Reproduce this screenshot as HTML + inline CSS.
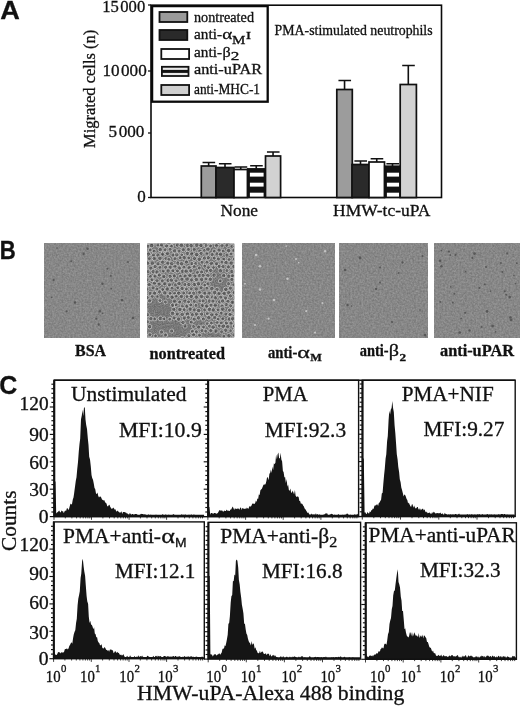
<!DOCTYPE html>
<html><head><meta charset="utf-8"><title>Figure</title>
<style>
html,body{margin:0;padding:0;background:#fff}
svg{display:block}
text{font-family:"Liberation Serif", serif;fill:#111;stroke:#111;stroke-width:0.3px}
.sans{font-family:"Liberation Sans", sans-serif}
</style></head><body>
<svg width="520" height="706" viewBox="0 0 520 706">
<defs>
<filter id="grain" x="0" y="0" width="100%" height="100%" color-interpolation-filters="sRGB">
<feTurbulence type="fractalNoise" baseFrequency="0.55" numOctaves="2" seed="3" result="n"/>
<feColorMatrix in="n" type="matrix" values="0.2 0 0 0 0.43  0.2 0 0 0 0.43  0.2 0 0 0 0.43  0 0 0 0 1"/>
</filter>
<filter id="grain2" x="0" y="0" width="100%" height="100%" color-interpolation-filters="sRGB">
<feTurbulence type="fractalNoise" baseFrequency="0.9" numOctaves="2" seed="8" result="n"/>
<feColorMatrix in="n" type="matrix" values="1.2 0 0 0 -0.1  1.2 0 0 0 -0.1  1.2 0 0 0 -0.1  0 0 0 0 0.22"/>
</filter>
<filter id="soft" x="-20%" y="-20%" width="140%" height="140%"><feGaussianBlur stdDeviation="1.6"/></filter>
<filter id="soft2" x="-5%" y="-5%" width="110%" height="110%"><feGaussianBlur stdDeviation="0.5"/></filter>
<filter id="cells" x="0" y="0" width="100%" height="100%"><feFlood flood-opacity="0"/></filter>
<clipPath id="clipcells"><rect x="147.2" y="243.6" width="87" height="93.9"/></clipPath>
</defs>
<rect width="520" height="706" fill="#fff"/>
<g id="panelA">
<text x="0.3" y="19" font-size="25" textLength="19.6" lengthAdjust="spacingAndGlyphs" font-weight="bold" class="sans" >A</text>
<rect x="151" y="5.2" width="290.5" height="192.3" fill="none" stroke="#0a0a0a" stroke-width="1.6"/>
<line x1="148" y1="5" x2="151" y2="5" stroke="#111" stroke-width="1.3"/>
<line x1="148" y1="71" x2="151" y2="71" stroke="#111" stroke-width="1.3"/>
<line x1="148" y1="133" x2="151" y2="133" stroke="#111" stroke-width="1.3"/>
<line x1="148" y1="197.5" x2="151" y2="197.5" stroke="#111" stroke-width="1.3"/>
<text x="102.2" y="12.4" font-size="17" textLength="43" lengthAdjust="spacingAndGlyphs" >15<tspan dx="1.5">000</tspan></text>
<text x="102.4" y="76.4" font-size="17" textLength="44.3" lengthAdjust="spacingAndGlyphs" >10<tspan dx="1.5">000</tspan></text>
<text x="108.6" y="137.2" font-size="17" textLength="35.8" lengthAdjust="spacingAndGlyphs" >5<tspan dx="1.5">000</tspan></text>
<text x="137.2" y="202.1" font-size="17" >0</text>
<text transform="translate(95.4,148) rotate(-90)" font-size="17" textLength="118.3" lengthAdjust="spacingAndGlyphs">Migrated cells (n)</text>
<rect x="152.1" y="6.1" width="115.6" height="95.6" fill="#fff" stroke="#0a0a0a" stroke-width="2.3"/>
<rect x="159.5" y="12" width="27.8" height="10" fill="#9a9a9a" stroke="#111" stroke-width="1.8"/>
<rect x="159.5" y="30" width="27.8" height="10" fill="#2a2a2a" stroke="#111" stroke-width="1.8"/>
<rect x="161.3" y="49" width="27.8" height="10" fill="#fff" stroke="#111" stroke-width="1.8"/>
<rect x="161.9" y="66.8" width="26.6" height="9.2" fill="#e8e8e8" stroke="#111" stroke-width="1.8"/>
<rect x="161.9" y="69.9" width="26.6" height="3" fill="#111"/>
<rect x="161.3" y="85" width="27.8" height="10" fill="#d0d0d0" stroke="#111" stroke-width="1.8"/>
<text x="194" y="22" font-size="14.5" textLength="60" lengthAdjust="spacingAndGlyphs" >nontreated</text>
<text x="194" y="39.4" font-size="14.5" textLength="28" lengthAdjust="spacingAndGlyphs" >anti-</text>
<text x="222.2" y="39.4" font-size="14.5" textLength="10" lengthAdjust="spacingAndGlyphs" >α</text>
<text x="232" y="44" font-size="12.5" textLength="13.4" lengthAdjust="spacingAndGlyphs" >M</text>
<text x="246" y="39.4" font-size="9.5" textLength="5" lengthAdjust="spacingAndGlyphs" >I</text>
<text x="194" y="56.5" font-size="14.5" textLength="28" lengthAdjust="spacingAndGlyphs" >anti-</text>
<text x="222.4" y="56.5" font-size="14.5" textLength="8.2" lengthAdjust="spacingAndGlyphs" >β</text>
<text x="230.7" y="60.2" font-size="12" textLength="8.6" lengthAdjust="spacingAndGlyphs" >2</text>
<text x="194" y="74" font-size="14.5" textLength="68" lengthAdjust="spacingAndGlyphs" >anti-uPAR</text>
<text x="194" y="94" font-size="14.5" textLength="66" lengthAdjust="spacingAndGlyphs" >anti-MHC-1</text>
<text x="274.6" y="35.1" font-size="14" textLength="158" lengthAdjust="spacingAndGlyphs" >PMA-stimulated neutrophils</text>
<rect x="201.3" y="166" width="14.699999999999989" height="31.5" fill="#9c9c9c" stroke="#111" stroke-width="1.7"/>
<path d="M208.65 166V162.5M202.55 162.5H215.15" stroke="#111" stroke-width="1.6" fill="none"/>
<rect x="216" y="167.5" width="18" height="30.0" fill="#2a2a2a" stroke="#111" stroke-width="1.7"/>
<path d="M225.0 167.5V163.7M218.9 163.7H231.5" stroke="#111" stroke-width="1.6" fill="none"/>
<rect x="234" y="169.5" width="13.5" height="28.0" fill="#fff" stroke="#111" stroke-width="1.7"/>
<path d="M240.75 169.5V167M234.65 167H247.25" stroke="#111" stroke-width="1.6" fill="none"/>
<rect x="247.5" y="168.7" width="17.5" height="28.80000000000001" fill="#111" stroke="#111" stroke-width="1.2"/>
<rect x="249.9" y="172.7" width="13.7" height="3.9" fill="#fff"/>
<rect x="249.9" y="182.7" width="13.7" height="3.9" fill="#fff"/>
<rect x="249.9" y="192.7" width="13.7" height="3.9" fill="#fff"/>
<path d="M256.25 168.7V165.7M250.15 165.7H262.75" stroke="#111" stroke-width="1.6" fill="none"/>
<rect x="265.5" y="156" width="15.100000000000023" height="41.5" fill="#d2d2d2" stroke="#111" stroke-width="1.7"/>
<path d="M273.05 156V152M266.95 152H279.55" stroke="#111" stroke-width="1.6" fill="none"/>
<rect x="336.8" y="89.5" width="15.5" height="108.0" fill="#9c9c9c" stroke="#111" stroke-width="1.7"/>
<path d="M344.55 89.5V80.5M338.45 80.5H351.05" stroke="#111" stroke-width="1.6" fill="none"/>
<rect x="352" y="164.5" width="17" height="33.0" fill="#2a2a2a" stroke="#111" stroke-width="1.7"/>
<path d="M360.5 164.5V161M354.4 161H367.0" stroke="#111" stroke-width="1.6" fill="none"/>
<rect x="369" y="162" width="15.5" height="35.5" fill="#fff" stroke="#111" stroke-width="1.7"/>
<path d="M376.75 162V158.7M370.65 158.7H383.25" stroke="#111" stroke-width="1.6" fill="none"/>
<rect x="384.5" y="166" width="16.0" height="31.5" fill="#111" stroke="#111" stroke-width="1.2"/>
<rect x="386.9" y="172.7" width="12.2" height="3.9" fill="#fff"/>
<rect x="386.9" y="182.7" width="12.2" height="3.9" fill="#fff"/>
<rect x="386.9" y="192.7" width="12.2" height="3.9" fill="#fff"/>
<path d="M392.5 166V163.7M386.4 163.7H399.0" stroke="#111" stroke-width="1.6" fill="none"/>
<rect x="400.2" y="84.5" width="16.19999999999999" height="113.0" fill="#d2d2d2" stroke="#111" stroke-width="1.7"/>
<path d="M408.29999999999995 84.5V65.5M402.19999999999993 65.5H414.79999999999995" stroke="#111" stroke-width="1.6" fill="none"/>
<text x="220.5" y="216" font-size="16.5" textLength="37.5" lengthAdjust="spacingAndGlyphs" >None</text>
<text x="333" y="216" font-size="16.5" textLength="97.5" lengthAdjust="spacingAndGlyphs" >HMW-tc-uPA</text>
</g>
<g id="panelB">
<text x="-0.2" y="258.8" font-size="25" textLength="16" lengthAdjust="spacingAndGlyphs" font-weight="bold" class="sans" >B</text>
<rect x="44.5" y="243.6" width="95.30000000000001" height="93.9" fill="#8d8d8d"/>
<rect x="44.5" y="243.6" width="95.30000000000001" height="93.9" fill="#808080" filter="url(#grain)"/>
<rect x="147.2" y="243.6" width="87.0" height="93.9" fill="#8d8d8d"/>
<rect x="147.2" y="243.6" width="87.0" height="93.9" fill="#808080" filter="url(#cells)"/>
<rect x="242.3" y="243.6" width="92.19999999999999" height="93.9" fill="#8d8d8d"/>
<rect x="242.3" y="243.6" width="92.19999999999999" height="93.9" fill="#808080" filter="url(#grain)"/>
<rect x="339.5" y="243.6" width="88.5" height="93.9" fill="#8d8d8d"/>
<rect x="339.5" y="243.6" width="88.5" height="93.9" fill="#808080" filter="url(#grain)"/>
<rect x="434.3" y="243.6" width="85.30000000000001" height="93.9" fill="#8d8d8d"/>
<rect x="434.3" y="243.6" width="85.30000000000001" height="93.9" fill="#808080" filter="url(#grain)"/>
<circle cx="57.0" cy="248.0" r="0.87" fill="#484848" opacity="0.75"/>
<circle cx="87.5" cy="248.7" r="1.22" fill="#484848" opacity="0.75"/>
<circle cx="83.7" cy="253.7" r="1.18" fill="#484848" opacity="0.75"/>
<circle cx="71.2" cy="261.2" r="0.93" fill="#484848" opacity="0.75"/>
<circle cx="107.5" cy="268.7" r="1.05" fill="#484848" opacity="0.75"/>
<circle cx="110.7" cy="275.7" r="1.02" fill="#484848" opacity="0.75"/>
<circle cx="53.7" cy="280.0" r="1.13" fill="#484848" opacity="0.75"/>
<circle cx="102.5" cy="283.7" r="1.19" fill="#484848" opacity="0.75"/>
<circle cx="111.2" cy="288.7" r="0.85" fill="#484848" opacity="0.75"/>
<circle cx="51.7" cy="297.5" r="0.81" fill="#484848" opacity="0.75"/>
<circle cx="75.0" cy="302.5" r="1.22" fill="#484848" opacity="0.75"/>
<circle cx="66.7" cy="311.2" r="1.02" fill="#484848" opacity="0.75"/>
<circle cx="100.0" cy="311.2" r="1.18" fill="#484848" opacity="0.75"/>
<circle cx="102.5" cy="313.2" r="0.80" fill="#484848" opacity="0.75"/>
<circle cx="96.2" cy="318.7" r="1.02" fill="#484848" opacity="0.75"/>
<circle cx="98.7" cy="324.5" r="1.16" fill="#484848" opacity="0.75"/>
<circle cx="128.0" cy="262.0" r="0.91" fill="#484848" opacity="0.75"/>
<circle cx="122.0" cy="300.0" r="1.27" fill="#484848" opacity="0.75"/>
<circle cx="133.0" cy="318.0" r="1.25" fill="#484848" opacity="0.75"/>
<g filter="url(#soft2)">
<circle cx="256.2" cy="255.0" r="1.33" fill="#d8d8d8" opacity="0.75"/>
<circle cx="260.0" cy="266.2" r="1.32" fill="#d8d8d8" opacity="0.75"/>
<circle cx="286.2" cy="246.2" r="0.83" fill="#d8d8d8" opacity="0.75"/>
<circle cx="298.7" cy="262.5" r="0.85" fill="#d8d8d8" opacity="0.75"/>
<circle cx="287.5" cy="278.7" r="1.26" fill="#d8d8d8" opacity="0.75"/>
<circle cx="260.0" cy="289.5" r="1.20" fill="#d8d8d8" opacity="0.75"/>
<circle cx="325.0" cy="251.2" r="1.17" fill="#d8d8d8" opacity="0.75"/>
<circle cx="322.5" cy="303.0" r="0.97" fill="#d8d8d8" opacity="0.75"/>
<circle cx="306.2" cy="311.2" r="1.13" fill="#d8d8d8" opacity="0.75"/>
<circle cx="268.7" cy="318.7" r="1.13" fill="#d8d8d8" opacity="0.75"/>
<circle cx="315.0" cy="332.5" r="1.12" fill="#d8d8d8" opacity="0.75"/>
<circle cx="245.0" cy="283.7" r="0.89" fill="#d8d8d8" opacity="0.75"/>
<circle cx="255.0" cy="325.0" r="1.04" fill="#d8d8d8" opacity="0.75"/>
<circle cx="296.0" cy="259.0" r="1.02" fill="#d8d8d8" opacity="0.75"/>
<circle cx="274.0" cy="300.0" r="1.20" fill="#d8d8d8" opacity="0.75"/>
</g>
<circle cx="380.0" cy="267.5" r="0.94" fill="#484848" opacity="0.75"/>
<circle cx="402.5" cy="262.5" r="1.13" fill="#484848" opacity="0.75"/>
<circle cx="380.0" cy="282.5" r="1.02" fill="#484848" opacity="0.75"/>
<circle cx="376.0" cy="289.0" r="1.16" fill="#484848" opacity="0.75"/>
<circle cx="347.5" cy="305.0" r="1.18" fill="#484848" opacity="0.75"/>
<circle cx="351.5" cy="306.0" r="0.84" fill="#484848" opacity="0.75"/>
<circle cx="420.0" cy="310.0" r="0.81" fill="#484848" opacity="0.75"/>
<circle cx="425.0" cy="335.0" r="1.30" fill="#484848" opacity="0.75"/>
<circle cx="422.5" cy="256.0" r="0.96" fill="#484848" opacity="0.75"/>
<circle cx="398.7" cy="273.0" r="0.94" fill="#484848" opacity="0.75"/>
<circle cx="360.0" cy="258.0" r="1.40" fill="#484848" opacity="0.75"/>
<circle cx="392.0" cy="322.0" r="1.08" fill="#484848" opacity="0.75"/>
<circle cx="345.0" cy="270.0" r="1.30" fill="#484848" opacity="0.75"/>
<circle cx="455.5" cy="254.9" r="1.04" fill="#484848" opacity="0.75"/>
<circle cx="449.0" cy="251.6" r="1.04" fill="#484848" opacity="0.75"/>
<circle cx="510.4" cy="317.6" r="1.26" fill="#484848" opacity="0.75"/>
<circle cx="454.4" cy="293.8" r="0.97" fill="#484848" opacity="0.75"/>
<circle cx="450.4" cy="255.1" r="0.93" fill="#484848" opacity="0.75"/>
<circle cx="511.2" cy="320.1" r="1.28" fill="#484848" opacity="0.75"/>
<circle cx="500.9" cy="263.0" r="0.99" fill="#484848" opacity="0.75"/>
<circle cx="487.0" cy="311.4" r="1.31" fill="#484848" opacity="0.75"/>
<circle cx="507.3" cy="253.4" r="1.16" fill="#484848" opacity="0.75"/>
<circle cx="490.6" cy="291.1" r="0.91" fill="#484848" opacity="0.75"/>
<circle cx="474.6" cy="253.6" r="1.36" fill="#484848" opacity="0.75"/>
<circle cx="506.2" cy="294.8" r="0.98" fill="#484848" opacity="0.75"/>
<circle cx="509.7" cy="297.1" r="1.33" fill="#484848" opacity="0.75"/>
<circle cx="504.8" cy="291.3" r="1.05" fill="#484848" opacity="0.75"/>
<circle cx="484.7" cy="284.4" r="0.90" fill="#484848" opacity="0.75"/>
<circle cx="461.1" cy="318.7" r="0.83" fill="#484848" opacity="0.75"/>
<circle cx="440.2" cy="301.9" r="0.97" fill="#484848" opacity="0.75"/>
<circle cx="479.5" cy="288.0" r="1.01" fill="#484848" opacity="0.75"/>
<circle cx="516.8" cy="263.2" r="1.05" fill="#484848" opacity="0.75"/>
<circle cx="452.8" cy="302.5" r="0.97" fill="#484848" opacity="0.75"/>
<circle cx="465.1" cy="312.8" r="0.99" fill="#484848" opacity="0.75"/>
<circle cx="481.5" cy="326.9" r="0.86" fill="#484848" opacity="0.75"/>
<circle cx="441.5" cy="266.2" r="1.26" fill="#484848" opacity="0.75"/>
<circle cx="486.0" cy="266.9" r="1.00" fill="#484848" opacity="0.75"/>
<circle cx="450.8" cy="286.9" r="0.83" fill="#484848" opacity="0.75"/>
<circle cx="492.6" cy="326.1" r="1.37" fill="#484848" opacity="0.75"/>
<circle cx="495.7" cy="331.9" r="0.81" fill="#484848" opacity="0.75"/>
<circle cx="459.8" cy="332.4" r="1.27" fill="#484848" opacity="0.75"/>
<circle cx="469.5" cy="330.4" r="1.17" fill="#484848" opacity="0.75"/>
<circle cx="502.3" cy="272.0" r="0.91" fill="#484848" opacity="0.75"/>
<circle cx="472.3" cy="257.9" r="1.03" fill="#484848" opacity="0.75"/>
<circle cx="513.9" cy="275.4" r="0.81" fill="#484848" opacity="0.75"/>
<circle cx="440.1" cy="260.8" r="1.27" fill="#484848" opacity="0.75"/>
<circle cx="465.7" cy="271.7" r="0.86" fill="#484848" opacity="0.75"/>
<circle cx="515.5" cy="283.7" r="0.92" fill="#484848" opacity="0.75"/>
<circle cx="441.3" cy="250.6" r="0.90" fill="#484848" opacity="0.75"/>
<g clip-path="url(#clipcells)">
<rect x="147.2" y="243.6" width="87.0" height="93.9" fill="#767676"/>
<circle cx="145.1" cy="241.7" r="2.27" fill="#585858" stroke="#dadada" stroke-width="0.75"/>
<circle cx="150.0" cy="241.6" r="2.13" fill="#585858" stroke="#dadada" stroke-width="0.75"/>
<circle cx="154.4" cy="241.6" r="2.15" fill="#585858" stroke="#dadada" stroke-width="0.75"/>
<circle cx="160.5" cy="240.8" r="2.02" fill="#585858" stroke="#dadada" stroke-width="0.75"/>
<circle cx="164.0" cy="242.2" r="2.18" fill="#585858" stroke="#dadada" stroke-width="0.75"/>
<circle cx="168.8" cy="242.6" r="2.29" fill="#585858" stroke="#dadada" stroke-width="0.75"/>
<circle cx="174.9" cy="241.8" r="1.96" fill="#585858" stroke="#dadada" stroke-width="0.75"/>
<circle cx="178.5" cy="241.7" r="1.92" fill="#585858" stroke="#dadada" stroke-width="0.75"/>
<circle cx="183.8" cy="241.1" r="1.91" fill="#585858" stroke="#dadada" stroke-width="0.75"/>
<circle cx="189.2" cy="241.5" r="2.24" fill="#585858" stroke="#dadada" stroke-width="0.75"/>
<circle cx="194.2" cy="241.9" r="2.10" fill="#585858" stroke="#dadada" stroke-width="0.75"/>
<circle cx="199.4" cy="241.5" r="2.01" fill="#585858" stroke="#dadada" stroke-width="0.75"/>
<circle cx="205.0" cy="242.6" r="2.24" fill="#585858" stroke="#dadada" stroke-width="0.75"/>
<circle cx="209.3" cy="241.2" r="1.99" fill="#585858" stroke="#dadada" stroke-width="0.75"/>
<circle cx="213.4" cy="240.7" r="2.21" fill="#585858" stroke="#dadada" stroke-width="0.75"/>
<circle cx="218.5" cy="242.3" r="2.05" fill="#585858" stroke="#dadada" stroke-width="0.75"/>
<circle cx="224.5" cy="242.3" r="1.90" fill="#585858" stroke="#dadada" stroke-width="0.75"/>
<circle cx="227.9" cy="242.4" r="2.09" fill="#585858" stroke="#dadada" stroke-width="0.75"/>
<circle cx="234.4" cy="241.4" r="1.93" fill="#585858" stroke="#dadada" stroke-width="0.75"/>
<circle cx="147.9" cy="246.4" r="2.01" fill="#585858" stroke="#dadada" stroke-width="0.75"/>
<circle cx="151.7" cy="245.5" r="2.29" fill="#585858" stroke="#dadada" stroke-width="0.75"/>
<circle cx="158.0" cy="245.1" r="2.00" fill="#585858" stroke="#dadada" stroke-width="0.75"/>
<circle cx="161.6" cy="245.0" r="2.22" fill="#585858" stroke="#dadada" stroke-width="0.75"/>
<circle cx="166.6" cy="246.0" r="2.08" fill="#585858" stroke="#dadada" stroke-width="0.75"/>
<circle cx="171.5" cy="246.3" r="1.95" fill="#585858" stroke="#dadada" stroke-width="0.75"/>
<circle cx="177.3" cy="245.1" r="2.07" fill="#585858" stroke="#dadada" stroke-width="0.75"/>
<circle cx="181.4" cy="245.4" r="2.29" fill="#585858" stroke="#dadada" stroke-width="0.75"/>
<circle cx="187.5" cy="245.5" r="2.25" fill="#585858" stroke="#dadada" stroke-width="0.75"/>
<circle cx="191.2" cy="245.7" r="2.24" fill="#585858" stroke="#dadada" stroke-width="0.75"/>
<circle cx="196.9" cy="245.1" r="2.30" fill="#585858" stroke="#dadada" stroke-width="0.75"/>
<circle cx="201.0" cy="245.4" r="2.21" fill="#585858" stroke="#dadada" stroke-width="0.75"/>
<circle cx="206.1" cy="245.5" r="1.93" fill="#585858" stroke="#dadada" stroke-width="0.75"/>
<circle cx="210.5" cy="246.0" r="2.00" fill="#585858" stroke="#dadada" stroke-width="0.75"/>
<circle cx="216.5" cy="245.6" r="2.08" fill="#585858" stroke="#dadada" stroke-width="0.75"/>
<circle cx="222.1" cy="245.8" r="2.13" fill="#585858" stroke="#dadada" stroke-width="0.75"/>
<circle cx="226.8" cy="245.2" r="1.96" fill="#585858" stroke="#dadada" stroke-width="0.75"/>
<circle cx="231.8" cy="246.5" r="2.00" fill="#585858" stroke="#dadada" stroke-width="0.75"/>
<circle cx="235.2" cy="246.3" r="2.28" fill="#585858" stroke="#dadada" stroke-width="0.75"/>
<circle cx="144.6" cy="251.0" r="2.25" fill="#585858" stroke="#dadada" stroke-width="0.75"/>
<circle cx="150.3" cy="250.0" r="1.94" fill="#585858" stroke="#dadada" stroke-width="0.75"/>
<circle cx="154.1" cy="251.1" r="2.00" fill="#585858" stroke="#dadada" stroke-width="0.75"/>
<circle cx="160.3" cy="249.6" r="2.23" fill="#585858" stroke="#dadada" stroke-width="0.75"/>
<circle cx="165.0" cy="249.7" r="1.97" fill="#585858" stroke="#dadada" stroke-width="0.75"/>
<circle cx="170.1" cy="249.3" r="1.99" fill="#585858" stroke="#dadada" stroke-width="0.75"/>
<circle cx="174.7" cy="250.8" r="2.15" fill="#585858" stroke="#dadada" stroke-width="0.75"/>
<circle cx="179.1" cy="251.0" r="1.98" fill="#585858" stroke="#dadada" stroke-width="0.75"/>
<circle cx="183.4" cy="249.7" r="2.08" fill="#585858" stroke="#dadada" stroke-width="0.75"/>
<circle cx="188.4" cy="249.5" r="2.05" fill="#585858" stroke="#dadada" stroke-width="0.75"/>
<circle cx="194.3" cy="249.4" r="2.04" fill="#585858" stroke="#dadada" stroke-width="0.75"/>
<circle cx="199.9" cy="251.1" r="2.16" fill="#585858" stroke="#dadada" stroke-width="0.75"/>
<circle cx="204.4" cy="250.3" r="1.96" fill="#585858" stroke="#dadada" stroke-width="0.75"/>
<circle cx="208.0" cy="249.2" r="2.26" fill="#585858" stroke="#dadada" stroke-width="0.75"/>
<circle cx="214.2" cy="251.1" r="1.91" fill="#585858" stroke="#dadada" stroke-width="0.75"/>
<circle cx="219.0" cy="250.1" r="2.19" fill="#585858" stroke="#dadada" stroke-width="0.75"/>
<circle cx="223.2" cy="251.1" r="1.93" fill="#585858" stroke="#dadada" stroke-width="0.75"/>
<circle cx="228.6" cy="250.6" r="2.26" fill="#585858" stroke="#dadada" stroke-width="0.75"/>
<circle cx="233.9" cy="250.5" r="2.22" fill="#585858" stroke="#dadada" stroke-width="0.75"/>
<circle cx="148.5" cy="254.1" r="2.17" fill="#585858" stroke="#dadada" stroke-width="0.75"/>
<circle cx="153.4" cy="255.1" r="2.07" fill="#585858" stroke="#dadada" stroke-width="0.75"/>
<circle cx="158.0" cy="255.1" r="2.13" fill="#585858" stroke="#dadada" stroke-width="0.75"/>
<circle cx="162.6" cy="254.2" r="2.13" fill="#585858" stroke="#dadada" stroke-width="0.75"/>
<circle cx="167.5" cy="253.5" r="2.16" fill="#585858" stroke="#dadada" stroke-width="0.75"/>
<circle cx="173.1" cy="255.1" r="2.19" fill="#585858" stroke="#dadada" stroke-width="0.75"/>
<circle cx="176.8" cy="254.9" r="2.13" fill="#585858" stroke="#dadada" stroke-width="0.75"/>
<circle cx="181.8" cy="255.1" r="1.93" fill="#585858" stroke="#dadada" stroke-width="0.75"/>
<circle cx="187.4" cy="253.4" r="2.14" fill="#585858" stroke="#dadada" stroke-width="0.75"/>
<circle cx="191.7" cy="253.8" r="2.18" fill="#585858" stroke="#dadada" stroke-width="0.75"/>
<circle cx="196.6" cy="254.6" r="2.27" fill="#585858" stroke="#dadada" stroke-width="0.75"/>
<circle cx="201.1" cy="253.4" r="2.02" fill="#585858" stroke="#dadada" stroke-width="0.75"/>
<circle cx="206.8" cy="253.8" r="1.97" fill="#585858" stroke="#dadada" stroke-width="0.75"/>
<circle cx="212.2" cy="254.7" r="2.08" fill="#585858" stroke="#dadada" stroke-width="0.75"/>
<circle cx="217.0" cy="254.0" r="2.17" fill="#585858" stroke="#dadada" stroke-width="0.75"/>
<circle cx="220.5" cy="254.3" r="2.22" fill="#585858" stroke="#dadada" stroke-width="0.75"/>
<circle cx="226.9" cy="255.1" r="2.05" fill="#585858" stroke="#dadada" stroke-width="0.75"/>
<circle cx="231.1" cy="254.0" r="1.95" fill="#585858" stroke="#dadada" stroke-width="0.75"/>
<circle cx="235.8" cy="255.1" r="2.24" fill="#585858" stroke="#dadada" stroke-width="0.75"/>
<circle cx="145.6" cy="259.6" r="2.01" fill="#585858" stroke="#dadada" stroke-width="0.75"/>
<circle cx="149.4" cy="258.6" r="2.01" fill="#585858" stroke="#dadada" stroke-width="0.75"/>
<circle cx="154.4" cy="258.5" r="2.15" fill="#585858" stroke="#dadada" stroke-width="0.75"/>
<circle cx="159.9" cy="258.3" r="2.24" fill="#585858" stroke="#dadada" stroke-width="0.75"/>
<circle cx="165.8" cy="258.6" r="1.93" fill="#585858" stroke="#dadada" stroke-width="0.75"/>
<circle cx="168.8" cy="259.4" r="1.92" fill="#585858" stroke="#dadada" stroke-width="0.75"/>
<circle cx="175.0" cy="258.8" r="2.02" fill="#585858" stroke="#dadada" stroke-width="0.75"/>
<circle cx="180.1" cy="257.7" r="1.95" fill="#585858" stroke="#dadada" stroke-width="0.75"/>
<circle cx="184.3" cy="257.7" r="2.23" fill="#585858" stroke="#dadada" stroke-width="0.75"/>
<circle cx="188.8" cy="257.9" r="1.92" fill="#585858" stroke="#dadada" stroke-width="0.75"/>
<circle cx="194.5" cy="258.5" r="2.15" fill="#585858" stroke="#dadada" stroke-width="0.75"/>
<circle cx="199.4" cy="259.3" r="2.28" fill="#585858" stroke="#dadada" stroke-width="0.75"/>
<circle cx="204.4" cy="258.1" r="2.09" fill="#585858" stroke="#dadada" stroke-width="0.75"/>
<circle cx="208.3" cy="257.7" r="2.09" fill="#585858" stroke="#dadada" stroke-width="0.75"/>
<circle cx="214.2" cy="258.0" r="2.01" fill="#585858" stroke="#dadada" stroke-width="0.75"/>
<circle cx="218.4" cy="259.0" r="2.11" fill="#585858" stroke="#dadada" stroke-width="0.75"/>
<circle cx="223.8" cy="259.2" r="2.06" fill="#585858" stroke="#dadada" stroke-width="0.75"/>
<circle cx="229.1" cy="259.5" r="1.93" fill="#585858" stroke="#dadada" stroke-width="0.75"/>
<circle cx="234.3" cy="259.1" r="1.95" fill="#585858" stroke="#dadada" stroke-width="0.75"/>
<circle cx="147.6" cy="263.2" r="2.26" fill="#585858" stroke="#dadada" stroke-width="0.75"/>
<circle cx="152.3" cy="263.1" r="2.25" fill="#585858" stroke="#dadada" stroke-width="0.75"/>
<circle cx="158.0" cy="263.8" r="2.09" fill="#585858" stroke="#dadada" stroke-width="0.75"/>
<circle cx="162.7" cy="262.3" r="2.19" fill="#585858" stroke="#dadada" stroke-width="0.75"/>
<circle cx="167.9" cy="263.2" r="2.19" fill="#585858" stroke="#dadada" stroke-width="0.75"/>
<circle cx="171.6" cy="263.7" r="2.29" fill="#585858" stroke="#dadada" stroke-width="0.75"/>
<circle cx="178.0" cy="263.0" r="2.22" fill="#585858" stroke="#dadada" stroke-width="0.75"/>
<circle cx="181.6" cy="263.7" r="2.24" fill="#585858" stroke="#dadada" stroke-width="0.75"/>
<circle cx="186.5" cy="262.1" r="2.08" fill="#585858" stroke="#dadada" stroke-width="0.75"/>
<circle cx="191.9" cy="263.5" r="2.09" fill="#585858" stroke="#dadada" stroke-width="0.75"/>
<circle cx="195.7" cy="263.5" r="1.93" fill="#585858" stroke="#dadada" stroke-width="0.75"/>
<circle cx="202.1" cy="262.3" r="2.03" fill="#585858" stroke="#dadada" stroke-width="0.75"/>
<circle cx="207.0" cy="262.2" r="1.96" fill="#585858" stroke="#dadada" stroke-width="0.75"/>
<circle cx="211.4" cy="263.4" r="2.24" fill="#585858" stroke="#dadada" stroke-width="0.75"/>
<circle cx="216.6" cy="263.8" r="2.10" fill="#585858" stroke="#dadada" stroke-width="0.75"/>
<circle cx="222.0" cy="262.1" r="1.99" fill="#585858" stroke="#dadada" stroke-width="0.75"/>
<circle cx="226.1" cy="262.5" r="2.19" fill="#585858" stroke="#dadada" stroke-width="0.75"/>
<circle cx="231.2" cy="263.0" r="2.24" fill="#585858" stroke="#dadada" stroke-width="0.75"/>
<circle cx="236.0" cy="262.5" r="2.05" fill="#585858" stroke="#dadada" stroke-width="0.75"/>
<circle cx="145.9" cy="268.0" r="1.98" fill="#585858" stroke="#dadada" stroke-width="0.75"/>
<circle cx="150.8" cy="268.1" r="2.11" fill="#585858" stroke="#dadada" stroke-width="0.75"/>
<circle cx="155.1" cy="266.6" r="2.11" fill="#585858" stroke="#dadada" stroke-width="0.75"/>
<circle cx="159.9" cy="267.4" r="1.91" fill="#585858" stroke="#dadada" stroke-width="0.75"/>
<circle cx="165.7" cy="267.2" r="2.06" fill="#585858" stroke="#dadada" stroke-width="0.75"/>
<circle cx="170.3" cy="267.3" r="2.10" fill="#585858" stroke="#dadada" stroke-width="0.75"/>
<circle cx="175.0" cy="266.3" r="2.12" fill="#585858" stroke="#dadada" stroke-width="0.75"/>
<circle cx="179.3" cy="268.1" r="2.27" fill="#585858" stroke="#dadada" stroke-width="0.75"/>
<circle cx="183.9" cy="267.1" r="1.95" fill="#585858" stroke="#dadada" stroke-width="0.75"/>
<circle cx="189.2" cy="267.8" r="2.26" fill="#585858" stroke="#dadada" stroke-width="0.75"/>
<circle cx="194.2" cy="266.8" r="1.98" fill="#585858" stroke="#dadada" stroke-width="0.75"/>
<circle cx="199.3" cy="268.0" r="1.95" fill="#585858" stroke="#dadada" stroke-width="0.75"/>
<circle cx="204.6" cy="266.2" r="1.98" fill="#585858" stroke="#dadada" stroke-width="0.75"/>
<circle cx="208.4" cy="267.6" r="2.03" fill="#585858" stroke="#dadada" stroke-width="0.75"/>
<circle cx="213.5" cy="267.4" r="1.94" fill="#585858" stroke="#dadada" stroke-width="0.75"/>
<circle cx="219.2" cy="266.4" r="2.10" fill="#585858" stroke="#dadada" stroke-width="0.75"/>
<circle cx="223.1" cy="266.6" r="2.11" fill="#585858" stroke="#dadada" stroke-width="0.75"/>
<circle cx="228.4" cy="266.9" r="2.07" fill="#585858" stroke="#dadada" stroke-width="0.75"/>
<circle cx="233.5" cy="266.5" r="1.98" fill="#585858" stroke="#dadada" stroke-width="0.75"/>
<circle cx="147.9" cy="271.7" r="2.11" fill="#585858" stroke="#dadada" stroke-width="0.75"/>
<circle cx="153.3" cy="271.7" r="2.24" fill="#585858" stroke="#dadada" stroke-width="0.75"/>
<circle cx="156.9" cy="271.9" r="2.22" fill="#585858" stroke="#dadada" stroke-width="0.75"/>
<circle cx="163.2" cy="271.1" r="2.03" fill="#585858" stroke="#dadada" stroke-width="0.75"/>
<circle cx="168.1" cy="270.9" r="2.30" fill="#585858" stroke="#dadada" stroke-width="0.75"/>
<circle cx="172.9" cy="270.7" r="2.00" fill="#585858" stroke="#dadada" stroke-width="0.75"/>
<circle cx="177.5" cy="271.0" r="1.94" fill="#585858" stroke="#dadada" stroke-width="0.75"/>
<circle cx="182.6" cy="271.3" r="2.22" fill="#585858" stroke="#dadada" stroke-width="0.75"/>
<circle cx="186.1" cy="271.2" r="2.17" fill="#585858" stroke="#dadada" stroke-width="0.75"/>
<circle cx="190.8" cy="270.8" r="2.17" fill="#585858" stroke="#dadada" stroke-width="0.75"/>
<circle cx="197.5" cy="272.4" r="1.95" fill="#585858" stroke="#dadada" stroke-width="0.75"/>
<circle cx="201.6" cy="272.0" r="2.10" fill="#585858" stroke="#dadada" stroke-width="0.75"/>
<circle cx="206.8" cy="270.8" r="1.93" fill="#585858" stroke="#dadada" stroke-width="0.75"/>
<circle cx="210.6" cy="270.5" r="2.12" fill="#585858" stroke="#dadada" stroke-width="0.75"/>
<circle cx="220.5" cy="270.8" r="2.30" fill="#585858" stroke="#dadada" stroke-width="0.75"/>
<circle cx="226.9" cy="270.6" r="1.92" fill="#585858" stroke="#dadada" stroke-width="0.75"/>
<circle cx="231.9" cy="271.4" r="2.21" fill="#585858" stroke="#dadada" stroke-width="0.75"/>
<circle cx="235.5" cy="271.4" r="2.11" fill="#585858" stroke="#dadada" stroke-width="0.75"/>
<circle cx="145.1" cy="275.9" r="1.91" fill="#585858" stroke="#dadada" stroke-width="0.75"/>
<circle cx="150.5" cy="276.4" r="1.97" fill="#585858" stroke="#dadada" stroke-width="0.75"/>
<circle cx="154.9" cy="276.2" r="2.06" fill="#585858" stroke="#dadada" stroke-width="0.75"/>
<circle cx="159.3" cy="275.0" r="2.11" fill="#585858" stroke="#dadada" stroke-width="0.75"/>
<circle cx="163.8" cy="276.5" r="2.22" fill="#585858" stroke="#dadada" stroke-width="0.75"/>
<circle cx="170.1" cy="276.4" r="2.15" fill="#585858" stroke="#dadada" stroke-width="0.75"/>
<circle cx="174.4" cy="275.9" r="2.10" fill="#585858" stroke="#dadada" stroke-width="0.75"/>
<circle cx="180.5" cy="276.3" r="2.00" fill="#585858" stroke="#dadada" stroke-width="0.75"/>
<circle cx="185.2" cy="276.2" r="2.21" fill="#585858" stroke="#dadada" stroke-width="0.75"/>
<circle cx="189.9" cy="275.5" r="2.26" fill="#585858" stroke="#dadada" stroke-width="0.75"/>
<circle cx="195.0" cy="276.1" r="2.21" fill="#585858" stroke="#dadada" stroke-width="0.75"/>
<circle cx="199.6" cy="275.5" r="2.19" fill="#585858" stroke="#dadada" stroke-width="0.75"/>
<circle cx="203.1" cy="275.4" r="2.09" fill="#585858" stroke="#dadada" stroke-width="0.75"/>
<circle cx="207.9" cy="275.4" r="2.16" fill="#585858" stroke="#dadada" stroke-width="0.75"/>
<circle cx="214.0" cy="275.2" r="2.17" fill="#585858" stroke="#dadada" stroke-width="0.75"/>
<circle cx="223.7" cy="275.5" r="2.16" fill="#585858" stroke="#dadada" stroke-width="0.75"/>
<circle cx="228.9" cy="276.2" r="2.29" fill="#585858" stroke="#dadada" stroke-width="0.75"/>
<circle cx="232.4" cy="275.9" r="2.20" fill="#585858" stroke="#dadada" stroke-width="0.75"/>
<circle cx="147.2" cy="279.8" r="1.92" fill="#585858" stroke="#dadada" stroke-width="0.75"/>
<circle cx="151.9" cy="279.7" r="1.94" fill="#585858" stroke="#dadada" stroke-width="0.75"/>
<circle cx="157.0" cy="280.8" r="2.12" fill="#585858" stroke="#dadada" stroke-width="0.75"/>
<circle cx="162.4" cy="280.9" r="2.13" fill="#585858" stroke="#dadada" stroke-width="0.75"/>
<circle cx="168.2" cy="280.2" r="2.22" fill="#585858" stroke="#dadada" stroke-width="0.75"/>
<circle cx="171.3" cy="280.2" r="2.20" fill="#585858" stroke="#dadada" stroke-width="0.75"/>
<circle cx="176.1" cy="280.8" r="1.96" fill="#585858" stroke="#dadada" stroke-width="0.75"/>
<circle cx="181.9" cy="279.3" r="2.10" fill="#585858" stroke="#dadada" stroke-width="0.75"/>
<circle cx="187.1" cy="279.1" r="2.28" fill="#585858" stroke="#dadada" stroke-width="0.75"/>
<circle cx="191.6" cy="280.0" r="2.14" fill="#585858" stroke="#dadada" stroke-width="0.75"/>
<circle cx="196.4" cy="279.5" r="2.16" fill="#585858" stroke="#dadada" stroke-width="0.75"/>
<circle cx="201.7" cy="279.5" r="2.19" fill="#585858" stroke="#dadada" stroke-width="0.75"/>
<circle cx="206.0" cy="279.0" r="2.00" fill="#585858" stroke="#dadada" stroke-width="0.75"/>
<circle cx="210.4" cy="279.3" r="2.20" fill="#585858" stroke="#dadada" stroke-width="0.75"/>
<circle cx="220.3" cy="280.9" r="1.93" fill="#585858" stroke="#dadada" stroke-width="0.75"/>
<circle cx="231.9" cy="279.5" r="2.11" fill="#585858" stroke="#dadada" stroke-width="0.75"/>
<circle cx="236.7" cy="280.4" r="2.09" fill="#585858" stroke="#dadada" stroke-width="0.75"/>
<circle cx="146.2" cy="284.9" r="2.14" fill="#585858" stroke="#dadada" stroke-width="0.75"/>
<circle cx="149.3" cy="284.5" r="2.08" fill="#585858" stroke="#dadada" stroke-width="0.75"/>
<circle cx="154.4" cy="283.3" r="2.11" fill="#585858" stroke="#dadada" stroke-width="0.75"/>
<circle cx="159.1" cy="284.1" r="2.17" fill="#585858" stroke="#dadada" stroke-width="0.75"/>
<circle cx="164.7" cy="283.8" r="2.13" fill="#585858" stroke="#dadada" stroke-width="0.75"/>
<circle cx="169.5" cy="284.8" r="2.11" fill="#585858" stroke="#dadada" stroke-width="0.75"/>
<circle cx="175.6" cy="285.1" r="2.19" fill="#585858" stroke="#dadada" stroke-width="0.75"/>
<circle cx="179.0" cy="283.5" r="2.26" fill="#585858" stroke="#dadada" stroke-width="0.75"/>
<circle cx="185.0" cy="284.5" r="2.04" fill="#585858" stroke="#dadada" stroke-width="0.75"/>
<circle cx="188.8" cy="284.6" r="2.13" fill="#585858" stroke="#dadada" stroke-width="0.75"/>
<circle cx="194.4" cy="284.5" r="2.20" fill="#585858" stroke="#dadada" stroke-width="0.75"/>
<circle cx="198.5" cy="283.7" r="2.29" fill="#585858" stroke="#dadada" stroke-width="0.75"/>
<circle cx="204.8" cy="285.0" r="1.92" fill="#585858" stroke="#dadada" stroke-width="0.75"/>
<circle cx="208.0" cy="283.8" r="2.07" fill="#585858" stroke="#dadada" stroke-width="0.75"/>
<circle cx="228.5" cy="283.7" r="2.04" fill="#585858" stroke="#dadada" stroke-width="0.75"/>
<circle cx="233.9" cy="284.9" r="1.93" fill="#585858" stroke="#dadada" stroke-width="0.75"/>
<circle cx="146.9" cy="289.1" r="2.15" fill="#585858" stroke="#dadada" stroke-width="0.75"/>
<circle cx="153.1" cy="287.9" r="2.07" fill="#585858" stroke="#dadada" stroke-width="0.75"/>
<circle cx="157.0" cy="289.1" r="2.05" fill="#585858" stroke="#dadada" stroke-width="0.75"/>
<circle cx="162.7" cy="289.5" r="2.03" fill="#585858" stroke="#dadada" stroke-width="0.75"/>
<circle cx="167.3" cy="289.0" r="2.27" fill="#585858" stroke="#dadada" stroke-width="0.75"/>
<circle cx="172.0" cy="288.2" r="1.94" fill="#585858" stroke="#dadada" stroke-width="0.75"/>
<circle cx="177.8" cy="287.7" r="1.93" fill="#585858" stroke="#dadada" stroke-width="0.75"/>
<circle cx="182.1" cy="288.5" r="2.17" fill="#585858" stroke="#dadada" stroke-width="0.75"/>
<circle cx="186.4" cy="289.0" r="1.93" fill="#585858" stroke="#dadada" stroke-width="0.75"/>
<circle cx="191.2" cy="288.8" r="1.93" fill="#585858" stroke="#dadada" stroke-width="0.75"/>
<circle cx="196.3" cy="288.9" r="2.18" fill="#585858" stroke="#dadada" stroke-width="0.75"/>
<circle cx="201.1" cy="287.8" r="2.04" fill="#585858" stroke="#dadada" stroke-width="0.75"/>
<circle cx="206.9" cy="288.2" r="1.95" fill="#585858" stroke="#dadada" stroke-width="0.75"/>
<circle cx="211.8" cy="288.6" r="2.27" fill="#585858" stroke="#dadada" stroke-width="0.75"/>
<circle cx="217.1" cy="289.3" r="2.08" fill="#585858" stroke="#dadada" stroke-width="0.75"/>
<circle cx="225.8" cy="289.4" r="2.26" fill="#585858" stroke="#dadada" stroke-width="0.75"/>
<circle cx="230.4" cy="288.2" r="2.05" fill="#585858" stroke="#dadada" stroke-width="0.75"/>
<circle cx="235.6" cy="288.3" r="2.06" fill="#585858" stroke="#dadada" stroke-width="0.75"/>
<circle cx="144.6" cy="292.9" r="2.22" fill="#585858" stroke="#dadada" stroke-width="0.75"/>
<circle cx="150.2" cy="293.4" r="2.13" fill="#585858" stroke="#dadada" stroke-width="0.75"/>
<circle cx="154.4" cy="293.3" r="2.25" fill="#585858" stroke="#dadada" stroke-width="0.75"/>
<circle cx="159.5" cy="291.8" r="2.11" fill="#585858" stroke="#dadada" stroke-width="0.75"/>
<circle cx="164.9" cy="292.9" r="2.29" fill="#585858" stroke="#dadada" stroke-width="0.75"/>
<circle cx="170.0" cy="293.4" r="1.93" fill="#585858" stroke="#dadada" stroke-width="0.75"/>
<circle cx="174.7" cy="293.3" r="1.93" fill="#585858" stroke="#dadada" stroke-width="0.75"/>
<circle cx="178.7" cy="293.2" r="2.26" fill="#585858" stroke="#dadada" stroke-width="0.75"/>
<circle cx="183.6" cy="293.0" r="1.96" fill="#585858" stroke="#dadada" stroke-width="0.75"/>
<circle cx="189.8" cy="293.1" r="2.00" fill="#585858" stroke="#dadada" stroke-width="0.75"/>
<circle cx="193.6" cy="293.3" r="2.11" fill="#585858" stroke="#dadada" stroke-width="0.75"/>
<circle cx="199.6" cy="292.5" r="2.04" fill="#585858" stroke="#dadada" stroke-width="0.75"/>
<circle cx="204.9" cy="293.1" r="2.10" fill="#585858" stroke="#dadada" stroke-width="0.75"/>
<circle cx="209.0" cy="293.2" r="2.18" fill="#585858" stroke="#dadada" stroke-width="0.75"/>
<circle cx="214.6" cy="292.6" r="2.23" fill="#585858" stroke="#dadada" stroke-width="0.75"/>
<circle cx="219.0" cy="293.5" r="2.22" fill="#585858" stroke="#dadada" stroke-width="0.75"/>
<circle cx="224.3" cy="293.5" r="2.28" fill="#585858" stroke="#dadada" stroke-width="0.75"/>
<circle cx="228.8" cy="292.8" r="2.18" fill="#585858" stroke="#dadada" stroke-width="0.75"/>
<circle cx="234.0" cy="292.6" r="2.07" fill="#585858" stroke="#dadada" stroke-width="0.75"/>
<circle cx="146.9" cy="297.5" r="2.30" fill="#585858" stroke="#dadada" stroke-width="0.75"/>
<circle cx="152.3" cy="296.4" r="1.98" fill="#585858" stroke="#dadada" stroke-width="0.75"/>
<circle cx="157.3" cy="296.6" r="1.92" fill="#585858" stroke="#dadada" stroke-width="0.75"/>
<circle cx="167.8" cy="296.4" r="1.92" fill="#585858" stroke="#dadada" stroke-width="0.75"/>
<circle cx="172.1" cy="297.2" r="2.26" fill="#585858" stroke="#dadada" stroke-width="0.75"/>
<circle cx="176.1" cy="296.2" r="1.97" fill="#585858" stroke="#dadada" stroke-width="0.75"/>
<circle cx="181.4" cy="296.5" r="2.19" fill="#585858" stroke="#dadada" stroke-width="0.75"/>
<circle cx="187.0" cy="296.5" r="1.97" fill="#585858" stroke="#dadada" stroke-width="0.75"/>
<circle cx="191.3" cy="296.4" r="2.20" fill="#585858" stroke="#dadada" stroke-width="0.75"/>
<circle cx="196.3" cy="297.1" r="2.23" fill="#585858" stroke="#dadada" stroke-width="0.75"/>
<circle cx="201.5" cy="296.5" r="2.25" fill="#585858" stroke="#dadada" stroke-width="0.75"/>
<circle cx="207.3" cy="296.7" r="2.12" fill="#585858" stroke="#dadada" stroke-width="0.75"/>
<circle cx="212.3" cy="297.0" r="1.99" fill="#585858" stroke="#dadada" stroke-width="0.75"/>
<circle cx="215.3" cy="297.9" r="2.22" fill="#585858" stroke="#dadada" stroke-width="0.75"/>
<circle cx="220.9" cy="297.1" r="2.11" fill="#585858" stroke="#dadada" stroke-width="0.75"/>
<circle cx="225.6" cy="298.0" r="2.16" fill="#585858" stroke="#dadada" stroke-width="0.75"/>
<circle cx="230.4" cy="296.0" r="2.09" fill="#585858" stroke="#dadada" stroke-width="0.75"/>
<circle cx="235.6" cy="297.6" r="2.19" fill="#585858" stroke="#dadada" stroke-width="0.75"/>
<circle cx="145.4" cy="300.6" r="1.96" fill="#585858" stroke="#dadada" stroke-width="0.75"/>
<circle cx="149.7" cy="300.8" r="2.11" fill="#585858" stroke="#dadada" stroke-width="0.75"/>
<circle cx="160.0" cy="300.6" r="1.90" fill="#585858" stroke="#dadada" stroke-width="0.75"/>
<circle cx="165.4" cy="302.0" r="1.93" fill="#585858" stroke="#dadada" stroke-width="0.75"/>
<circle cx="174.6" cy="301.2" r="2.28" fill="#585858" stroke="#dadada" stroke-width="0.75"/>
<circle cx="179.7" cy="302.0" r="2.02" fill="#585858" stroke="#dadada" stroke-width="0.75"/>
<circle cx="185.0" cy="301.1" r="2.27" fill="#585858" stroke="#dadada" stroke-width="0.75"/>
<circle cx="188.5" cy="301.9" r="1.98" fill="#585858" stroke="#dadada" stroke-width="0.75"/>
<circle cx="194.3" cy="301.3" r="1.96" fill="#585858" stroke="#dadada" stroke-width="0.75"/>
<circle cx="199.8" cy="300.9" r="2.02" fill="#585858" stroke="#dadada" stroke-width="0.75"/>
<circle cx="203.2" cy="300.9" r="2.09" fill="#585858" stroke="#dadada" stroke-width="0.75"/>
<circle cx="209.3" cy="301.0" r="2.17" fill="#585858" stroke="#dadada" stroke-width="0.75"/>
<circle cx="213.0" cy="301.1" r="2.08" fill="#585858" stroke="#dadada" stroke-width="0.75"/>
<circle cx="219.6" cy="301.9" r="2.16" fill="#585858" stroke="#dadada" stroke-width="0.75"/>
<circle cx="222.6" cy="301.0" r="2.18" fill="#585858" stroke="#dadada" stroke-width="0.75"/>
<circle cx="228.0" cy="301.4" r="2.08" fill="#585858" stroke="#dadada" stroke-width="0.75"/>
<circle cx="232.4" cy="302.3" r="2.22" fill="#585858" stroke="#dadada" stroke-width="0.75"/>
<circle cx="172.6" cy="305.2" r="2.23" fill="#585858" stroke="#dadada" stroke-width="0.75"/>
<circle cx="176.2" cy="304.8" r="1.94" fill="#585858" stroke="#dadada" stroke-width="0.75"/>
<circle cx="182.3" cy="306.0" r="1.97" fill="#585858" stroke="#dadada" stroke-width="0.75"/>
<circle cx="186.7" cy="306.2" r="2.14" fill="#585858" stroke="#dadada" stroke-width="0.75"/>
<circle cx="190.9" cy="305.0" r="1.96" fill="#585858" stroke="#dadada" stroke-width="0.75"/>
<circle cx="195.9" cy="305.4" r="1.93" fill="#585858" stroke="#dadada" stroke-width="0.75"/>
<circle cx="202.4" cy="305.4" r="2.10" fill="#585858" stroke="#dadada" stroke-width="0.75"/>
<circle cx="206.7" cy="306.1" r="2.23" fill="#585858" stroke="#dadada" stroke-width="0.75"/>
<circle cx="211.1" cy="305.2" r="2.06" fill="#585858" stroke="#dadada" stroke-width="0.75"/>
<circle cx="215.3" cy="305.3" r="2.18" fill="#585858" stroke="#dadada" stroke-width="0.75"/>
<circle cx="222.1" cy="306.1" r="2.16" fill="#585858" stroke="#dadada" stroke-width="0.75"/>
<circle cx="226.3" cy="304.6" r="2.03" fill="#585858" stroke="#dadada" stroke-width="0.75"/>
<circle cx="230.6" cy="305.8" r="1.94" fill="#585858" stroke="#dadada" stroke-width="0.75"/>
<circle cx="235.6" cy="305.6" r="2.22" fill="#585858" stroke="#dadada" stroke-width="0.75"/>
<circle cx="145.9" cy="310.0" r="1.96" fill="#585858" stroke="#dadada" stroke-width="0.75"/>
<circle cx="173.8" cy="309.3" r="2.13" fill="#585858" stroke="#dadada" stroke-width="0.75"/>
<circle cx="179.9" cy="309.5" r="2.27" fill="#585858" stroke="#dadada" stroke-width="0.75"/>
<circle cx="184.1" cy="309.7" r="1.95" fill="#585858" stroke="#dadada" stroke-width="0.75"/>
<circle cx="190.2" cy="309.1" r="2.26" fill="#585858" stroke="#dadada" stroke-width="0.75"/>
<circle cx="194.3" cy="309.9" r="2.12" fill="#585858" stroke="#dadada" stroke-width="0.75"/>
<circle cx="198.6" cy="310.6" r="2.30" fill="#585858" stroke="#dadada" stroke-width="0.75"/>
<circle cx="204.6" cy="310.0" r="1.95" fill="#585858" stroke="#dadada" stroke-width="0.75"/>
<circle cx="209.5" cy="309.4" r="2.26" fill="#585858" stroke="#dadada" stroke-width="0.75"/>
<circle cx="213.3" cy="310.0" r="2.23" fill="#585858" stroke="#dadada" stroke-width="0.75"/>
<circle cx="218.1" cy="309.9" r="1.93" fill="#585858" stroke="#dadada" stroke-width="0.75"/>
<circle cx="222.7" cy="309.2" r="2.29" fill="#585858" stroke="#dadada" stroke-width="0.75"/>
<circle cx="229.4" cy="310.1" r="2.02" fill="#585858" stroke="#dadada" stroke-width="0.75"/>
<circle cx="233.7" cy="310.3" r="2.05" fill="#585858" stroke="#dadada" stroke-width="0.75"/>
<circle cx="147.8" cy="314.7" r="1.91" fill="#585858" stroke="#dadada" stroke-width="0.75"/>
<circle cx="172.5" cy="313.4" r="2.28" fill="#585858" stroke="#dadada" stroke-width="0.75"/>
<circle cx="177.3" cy="314.0" r="2.06" fill="#585858" stroke="#dadada" stroke-width="0.75"/>
<circle cx="182.2" cy="314.4" r="2.20" fill="#585858" stroke="#dadada" stroke-width="0.75"/>
<circle cx="187.4" cy="314.0" r="2.30" fill="#585858" stroke="#dadada" stroke-width="0.75"/>
<circle cx="192.4" cy="314.8" r="2.06" fill="#585858" stroke="#dadada" stroke-width="0.75"/>
<circle cx="196.5" cy="314.2" r="2.26" fill="#585858" stroke="#dadada" stroke-width="0.75"/>
<circle cx="201.6" cy="314.1" r="2.07" fill="#585858" stroke="#dadada" stroke-width="0.75"/>
<circle cx="207.3" cy="313.7" r="1.92" fill="#585858" stroke="#dadada" stroke-width="0.75"/>
<circle cx="211.8" cy="314.9" r="2.19" fill="#585858" stroke="#dadada" stroke-width="0.75"/>
<circle cx="216.4" cy="314.6" r="2.02" fill="#585858" stroke="#dadada" stroke-width="0.75"/>
<circle cx="221.3" cy="313.2" r="1.95" fill="#585858" stroke="#dadada" stroke-width="0.75"/>
<circle cx="225.9" cy="314.1" r="2.06" fill="#585858" stroke="#dadada" stroke-width="0.75"/>
<circle cx="230.1" cy="314.5" r="2.11" fill="#585858" stroke="#dadada" stroke-width="0.75"/>
<circle cx="235.3" cy="313.7" r="2.06" fill="#585858" stroke="#dadada" stroke-width="0.75"/>
<circle cx="144.7" cy="317.5" r="2.26" fill="#585858" stroke="#dadada" stroke-width="0.75"/>
<circle cx="151.0" cy="318.7" r="2.25" fill="#585858" stroke="#dadada" stroke-width="0.75"/>
<circle cx="154.8" cy="318.9" r="1.99" fill="#585858" stroke="#dadada" stroke-width="0.75"/>
<circle cx="160.4" cy="318.5" r="2.26" fill="#585858" stroke="#dadada" stroke-width="0.75"/>
<circle cx="164.0" cy="318.9" r="1.95" fill="#585858" stroke="#dadada" stroke-width="0.75"/>
<circle cx="169.8" cy="319.2" r="1.90" fill="#585858" stroke="#dadada" stroke-width="0.75"/>
<circle cx="174.1" cy="317.9" r="2.03" fill="#585858" stroke="#dadada" stroke-width="0.75"/>
<circle cx="178.6" cy="319.1" r="2.23" fill="#585858" stroke="#dadada" stroke-width="0.75"/>
<circle cx="184.2" cy="318.0" r="2.13" fill="#585858" stroke="#dadada" stroke-width="0.75"/>
<circle cx="188.4" cy="317.4" r="2.02" fill="#585858" stroke="#dadada" stroke-width="0.75"/>
<circle cx="194.2" cy="319.2" r="2.09" fill="#585858" stroke="#dadada" stroke-width="0.75"/>
<circle cx="198.5" cy="317.9" r="2.26" fill="#585858" stroke="#dadada" stroke-width="0.75"/>
<circle cx="203.4" cy="319.0" r="2.04" fill="#585858" stroke="#dadada" stroke-width="0.75"/>
<circle cx="208.8" cy="317.7" r="2.25" fill="#585858" stroke="#dadada" stroke-width="0.75"/>
<circle cx="214.8" cy="317.7" r="2.15" fill="#585858" stroke="#dadada" stroke-width="0.75"/>
<circle cx="218.1" cy="319.1" r="1.92" fill="#585858" stroke="#dadada" stroke-width="0.75"/>
<circle cx="222.8" cy="318.8" r="2.03" fill="#585858" stroke="#dadada" stroke-width="0.75"/>
<circle cx="229.3" cy="319.1" r="2.19" fill="#585858" stroke="#dadada" stroke-width="0.75"/>
<circle cx="232.7" cy="318.7" r="2.28" fill="#585858" stroke="#dadada" stroke-width="0.75"/>
<circle cx="147.5" cy="321.8" r="1.99" fill="#585858" stroke="#dadada" stroke-width="0.75"/>
<circle cx="182.9" cy="322.5" r="2.11" fill="#585858" stroke="#dadada" stroke-width="0.75"/>
<circle cx="191.3" cy="322.1" r="1.93" fill="#585858" stroke="#dadada" stroke-width="0.75"/>
<circle cx="207.2" cy="323.6" r="1.91" fill="#585858" stroke="#dadada" stroke-width="0.75"/>
<circle cx="211.3" cy="323.1" r="2.05" fill="#585858" stroke="#dadada" stroke-width="0.75"/>
<circle cx="217.1" cy="322.6" r="1.97" fill="#585858" stroke="#dadada" stroke-width="0.75"/>
<circle cx="221.3" cy="322.9" r="2.04" fill="#585858" stroke="#dadada" stroke-width="0.75"/>
<circle cx="226.4" cy="323.2" r="2.11" fill="#585858" stroke="#dadada" stroke-width="0.75"/>
<circle cx="231.0" cy="323.3" r="2.17" fill="#585858" stroke="#dadada" stroke-width="0.75"/>
<circle cx="235.9" cy="323.5" r="1.97" fill="#585858" stroke="#dadada" stroke-width="0.75"/>
<circle cx="149.6" cy="326.7" r="2.21" fill="#585858" stroke="#dadada" stroke-width="0.75"/>
<circle cx="185.0" cy="326.0" r="2.13" fill="#585858" stroke="#dadada" stroke-width="0.75"/>
<circle cx="193.5" cy="326.5" r="1.92" fill="#585858" stroke="#dadada" stroke-width="0.75"/>
<circle cx="198.7" cy="327.1" r="2.11" fill="#585858" stroke="#dadada" stroke-width="0.75"/>
<circle cx="203.5" cy="327.0" r="1.94" fill="#585858" stroke="#dadada" stroke-width="0.75"/>
<circle cx="209.5" cy="326.2" r="2.00" fill="#585858" stroke="#dadada" stroke-width="0.75"/>
<circle cx="213.1" cy="327.2" r="2.23" fill="#585858" stroke="#dadada" stroke-width="0.75"/>
<circle cx="219.3" cy="326.0" r="2.06" fill="#585858" stroke="#dadada" stroke-width="0.75"/>
<circle cx="223.3" cy="326.3" r="2.29" fill="#585858" stroke="#dadada" stroke-width="0.75"/>
<circle cx="227.6" cy="326.8" r="2.20" fill="#585858" stroke="#dadada" stroke-width="0.75"/>
<circle cx="234.4" cy="326.1" r="2.08" fill="#585858" stroke="#dadada" stroke-width="0.75"/>
<circle cx="161.4" cy="332.1" r="2.19" fill="#585858" stroke="#dadada" stroke-width="0.75"/>
<circle cx="171.6" cy="331.0" r="2.05" fill="#585858" stroke="#dadada" stroke-width="0.75"/>
<circle cx="192.5" cy="331.3" r="2.09" fill="#585858" stroke="#dadada" stroke-width="0.75"/>
<circle cx="196.4" cy="331.8" r="2.05" fill="#585858" stroke="#dadada" stroke-width="0.75"/>
<circle cx="202.1" cy="330.6" r="2.04" fill="#585858" stroke="#dadada" stroke-width="0.75"/>
<circle cx="205.8" cy="331.2" r="1.97" fill="#585858" stroke="#dadada" stroke-width="0.75"/>
<circle cx="210.8" cy="330.6" r="2.09" fill="#585858" stroke="#dadada" stroke-width="0.75"/>
<circle cx="215.9" cy="331.0" r="2.30" fill="#585858" stroke="#dadada" stroke-width="0.75"/>
<circle cx="221.5" cy="331.8" r="1.98" fill="#585858" stroke="#dadada" stroke-width="0.75"/>
<circle cx="225.8" cy="330.3" r="2.18" fill="#585858" stroke="#dadada" stroke-width="0.75"/>
<circle cx="230.7" cy="330.7" r="1.91" fill="#585858" stroke="#dadada" stroke-width="0.75"/>
<circle cx="235.2" cy="330.6" r="2.06" fill="#585858" stroke="#dadada" stroke-width="0.75"/>
<circle cx="146.0" cy="335.8" r="2.01" fill="#585858" stroke="#dadada" stroke-width="0.75"/>
<circle cx="149.8" cy="334.7" r="2.04" fill="#585858" stroke="#dadada" stroke-width="0.75"/>
<circle cx="155.5" cy="335.8" r="1.91" fill="#585858" stroke="#dadada" stroke-width="0.75"/>
<circle cx="165.6" cy="335.0" r="2.11" fill="#585858" stroke="#dadada" stroke-width="0.75"/>
<circle cx="188.8" cy="335.8" r="2.17" fill="#585858" stroke="#dadada" stroke-width="0.75"/>
<circle cx="193.5" cy="334.8" r="2.01" fill="#585858" stroke="#dadada" stroke-width="0.75"/>
<circle cx="199.5" cy="335.2" r="2.05" fill="#585858" stroke="#dadada" stroke-width="0.75"/>
<circle cx="223.9" cy="336.2" r="1.99" fill="#585858" stroke="#dadada" stroke-width="0.75"/>
<circle cx="228.9" cy="335.7" r="2.28" fill="#585858" stroke="#dadada" stroke-width="0.75"/>
<circle cx="234.1" cy="334.9" r="2.15" fill="#585858" stroke="#dadada" stroke-width="0.75"/>
<circle cx="146.8" cy="339.5" r="2.06" fill="#585858" stroke="#dadada" stroke-width="0.75"/>
<circle cx="151.7" cy="339.4" r="2.03" fill="#585858" stroke="#dadada" stroke-width="0.75"/>
<circle cx="157.4" cy="339.2" r="1.96" fill="#585858" stroke="#dadada" stroke-width="0.75"/>
<circle cx="162.2" cy="339.6" r="1.97" fill="#585858" stroke="#dadada" stroke-width="0.75"/>
<circle cx="167.6" cy="339.1" r="1.94" fill="#585858" stroke="#dadada" stroke-width="0.75"/>
<circle cx="171.8" cy="339.5" r="1.96" fill="#585858" stroke="#dadada" stroke-width="0.75"/>
<circle cx="177.2" cy="340.1" r="2.12" fill="#585858" stroke="#dadada" stroke-width="0.75"/>
<circle cx="182.4" cy="338.7" r="2.06" fill="#585858" stroke="#dadada" stroke-width="0.75"/>
<circle cx="186.6" cy="338.8" r="2.06" fill="#585858" stroke="#dadada" stroke-width="0.75"/>
<circle cx="190.9" cy="339.6" r="2.13" fill="#585858" stroke="#dadada" stroke-width="0.75"/>
<circle cx="196.6" cy="339.3" r="2.00" fill="#585858" stroke="#dadada" stroke-width="0.75"/>
<circle cx="200.6" cy="339.3" r="2.26" fill="#585858" stroke="#dadada" stroke-width="0.75"/>
<circle cx="206.6" cy="339.2" r="2.17" fill="#585858" stroke="#dadada" stroke-width="0.75"/>
<circle cx="210.7" cy="339.6" r="2.15" fill="#585858" stroke="#dadada" stroke-width="0.75"/>
<circle cx="217.2" cy="339.4" r="2.13" fill="#585858" stroke="#dadada" stroke-width="0.75"/>
<circle cx="222.0" cy="340.2" r="2.15" fill="#585858" stroke="#dadada" stroke-width="0.75"/>
<circle cx="226.3" cy="339.5" r="2.07" fill="#585858" stroke="#dadada" stroke-width="0.75"/>
<circle cx="230.5" cy="340.3" r="2.25" fill="#585858" stroke="#dadada" stroke-width="0.75"/>
<circle cx="235.6" cy="340.5" r="1.92" fill="#585858" stroke="#dadada" stroke-width="0.75"/>
<rect x="147.2" y="243.6" width="87.0" height="93.9" fill="#808080" filter="url(#grain2)"/>
</g>
<text x="75" y="356" font-size="16" textLength="31" lengthAdjust="spacingAndGlyphs" font-weight="bold" >BSA</text>
<text x="149.5" y="358.7" font-size="16" textLength="75.5" lengthAdjust="spacingAndGlyphs" font-weight="bold" >nontreated</text>
<text x="268" y="357.7" font-size="16" textLength="29.3" lengthAdjust="spacingAndGlyphs" font-weight="bold" >anti-</text>
<text x="297.3" y="357.7" font-size="17" textLength="12.6" lengthAdjust="spacingAndGlyphs" >α</text>
<text x="310.3" y="361" font-size="11" textLength="11.6" lengthAdjust="spacingAndGlyphs" font-weight="bold" >M</text>
<text x="359.7" y="356.2" font-size="16" textLength="28.8" lengthAdjust="spacingAndGlyphs" font-weight="bold" >anti-</text>
<text x="388.7" y="356.2" font-size="17" textLength="10.3" lengthAdjust="spacingAndGlyphs" >β</text>
<text x="399.5" y="361" font-size="11" textLength="6.6" lengthAdjust="spacingAndGlyphs" font-weight="bold" >2</text>
<text x="440" y="356" font-size="16" textLength="74" lengthAdjust="spacingAndGlyphs" font-weight="bold" >anti-uPAR</text>
</g>
<g id="panelC">
<text x="-0.8" y="394.3" font-size="25" font-weight="bold" class="sans" >C</text>
<text transform="translate(15.5,551) rotate(-90)" font-size="21" textLength="60.5" lengthAdjust="spacingAndGlyphs">Counts</text>
<path d="M54 516.6L54.0 481.6L54.8 481.6L55.5 481.6L56.2 513.4L57.0 512.4L57.8 512.1L58.5 511.2L59.2 510.4L60.0 512.0L60.8 512.4L61.5 510.3L62.2 511.6L63.0 510.9L63.8 513.2L64.5 511.6L65.2 510.3L66.0 511.2L66.8 508.4L67.5 508.0L68.2 510.0L69.0 509.0L69.8 506.1L70.5 503.6L71.2 504.5L72.0 504.0L72.8 499.4L73.5 497.5L74.2 492.8L75.0 486.7L75.8 480.8L76.5 477.2L77.2 469.6L78.0 462.1L78.8 451.2L79.5 444.1L80.2 438.6L81.0 419.3L81.8 415.6L82.5 409.8L83.2 415.9L84.0 407.6L84.8 407.6L85.5 419.4L86.2 425.1L87.0 428.9L87.8 438.2L88.5 445.0L89.2 456.7L90.0 459.5L90.8 466.6L91.5 475.0L92.2 477.9L93.0 479.7L93.8 483.8L94.5 488.1L95.2 489.1L96.0 493.5L96.8 493.9L97.5 492.6L98.2 495.7L99.0 497.6L99.8 496.5L100.5 496.6L101.2 497.5L102.0 499.5L102.8 500.0L103.5 500.4L104.2 500.1L105.0 501.9L105.8 503.1L106.5 503.5L107.2 505.9L108.0 506.6L108.8 504.9L109.5 504.7L110.2 506.7L111.0 507.9L111.8 509.1L112.5 508.4L113.2 507.4L114.0 508.5L114.8 509.7L115.5 509.2L116.2 511.6L117.0 511.2L117.8 510.4L118.5 511.7L119.2 512.2L120.0 512.8L120.8 512.2L121.5 511.2L122.2 514.0L123.0 512.0L123.8 512.0L124.5 512.0L125.2 512.5L126.0 512.5L126.8 513.4L127.5 513.4L128.2 513.9L129.0 514.8L129.8 512.9L130.5 513.7L131.2 514.7L132.0 514.0L132.8 514.1L133.5 514.5L134.2 514.6L135.0 514.1L135.8 514.0L136.5 514.0L137.2 514.5L138.0 514.8L138.8 514.8L139.5 514.8L140.2 514.4L141.0 513.7L141.8 513.9L142.5 514.0L143.2 514.0L144.0 514.8L144.8 514.0L145.5 514.4L146.2 514.8L147.0 514.8L147.8 514.8L148.5 514.3L149.2 514.8L150.0 514.8L150.8 514.6L151.5 514.8L152.2 514.8L153.0 514.8L153.8 514.8L154.5 514.8L155.2 514.8L156.0 514.5L156.8 514.8L157.5 514.8L158.2 514.8L159.0 514.8L159.8 514.8L160.5 514.8L161.2 514.8L162.0 514.8L162.8 514.1L163.5 514.8L164.2 514.8L165.0 514.8L165.8 514.3L166.5 514.8L167.2 514.8L168.0 514.8L168.8 514.6L169.5 514.8L170.2 514.7L171.0 514.7L171.8 514.8L172.5 514.8L173.2 514.1L174.0 514.5L174.8 514.8L175.5 514.8L176.2 514.8L177.0 514.8L177.8 514.8L178.5 514.8L179.2 514.8L180.0 514.8L180.8 514.8L181.5 514.2L182.2 514.4L183.0 514.8L183.8 514.5L184.5 514.8L185.2 514.3L186.0 514.8L186.8 514.8L187.5 514.8L188.2 514.8L189.0 514.5L189.8 514.8L190.5 514.7L191.2 514.3L192.0 514.8L192.8 514.8L193.5 514.6L194.2 514.4L195.0 514.8L195.8 514.8L196.5 514.8L197.2 514.8L198.0 514.8L198.8 514.8L199.5 514.8L200.2 514.8L201.0 514.8L201.8 514.8L202.5 514.8L203.2 514.8L204.0 514.8L204.2 516.6Z" fill="#151515"/>
<path d="M207.7 380.2H54V516.6H204.2" fill="none" stroke="#111" stroke-width="1.4"/>
<line x1="54.3" y1="380.2" x2="54.3" y2="516.6" stroke="#111" stroke-width="2"/>
<line x1="49.8" y1="516.6" x2="54" y2="516.6" stroke="#111" stroke-width="1.15"/>
<line x1="51.4" y1="512.0" x2="54" y2="512.0" stroke="#111" stroke-width="1.15"/>
<line x1="51.4" y1="507.5" x2="54" y2="507.5" stroke="#111" stroke-width="1.15"/>
<line x1="51.4" y1="502.9" x2="54" y2="502.9" stroke="#111" stroke-width="1.15"/>
<line x1="51.4" y1="498.3" x2="54" y2="498.3" stroke="#111" stroke-width="1.15"/>
<line x1="51.4" y1="493.8" x2="54" y2="493.8" stroke="#111" stroke-width="1.15"/>
<line x1="49.8" y1="489.2" x2="54" y2="489.2" stroke="#111" stroke-width="1.15"/>
<line x1="51.4" y1="484.6" x2="54" y2="484.6" stroke="#111" stroke-width="1.15"/>
<line x1="51.4" y1="480.1" x2="54" y2="480.1" stroke="#111" stroke-width="1.15"/>
<line x1="51.4" y1="475.5" x2="54" y2="475.5" stroke="#111" stroke-width="1.15"/>
<line x1="51.4" y1="470.9" x2="54" y2="470.9" stroke="#111" stroke-width="1.15"/>
<line x1="51.4" y1="466.4" x2="54" y2="466.4" stroke="#111" stroke-width="1.15"/>
<line x1="49.8" y1="461.8" x2="54" y2="461.8" stroke="#111" stroke-width="1.15"/>
<line x1="51.4" y1="457.2" x2="54" y2="457.2" stroke="#111" stroke-width="1.15"/>
<line x1="51.4" y1="452.7" x2="54" y2="452.7" stroke="#111" stroke-width="1.15"/>
<line x1="51.4" y1="448.1" x2="54" y2="448.1" stroke="#111" stroke-width="1.15"/>
<line x1="51.4" y1="443.5" x2="54" y2="443.5" stroke="#111" stroke-width="1.15"/>
<line x1="51.4" y1="439.0" x2="54" y2="439.0" stroke="#111" stroke-width="1.15"/>
<line x1="49.8" y1="434.4" x2="54" y2="434.4" stroke="#111" stroke-width="1.15"/>
<line x1="51.4" y1="429.8" x2="54" y2="429.8" stroke="#111" stroke-width="1.15"/>
<line x1="51.4" y1="425.3" x2="54" y2="425.3" stroke="#111" stroke-width="1.15"/>
<line x1="51.4" y1="420.7" x2="54" y2="420.7" stroke="#111" stroke-width="1.15"/>
<line x1="51.4" y1="416.1" x2="54" y2="416.1" stroke="#111" stroke-width="1.15"/>
<line x1="51.4" y1="411.6" x2="54" y2="411.6" stroke="#111" stroke-width="1.15"/>
<line x1="49.8" y1="407.0" x2="54" y2="407.0" stroke="#111" stroke-width="1.15"/>
<line x1="51.4" y1="402.4" x2="54" y2="402.4" stroke="#111" stroke-width="1.15"/>
<line x1="51.4" y1="397.9" x2="54" y2="397.9" stroke="#111" stroke-width="1.15"/>
<line x1="51.4" y1="393.3" x2="54" y2="393.3" stroke="#111" stroke-width="1.15"/>
<line x1="51.4" y1="388.7" x2="54" y2="388.7" stroke="#111" stroke-width="1.15"/>
<line x1="51.4" y1="384.2" x2="54" y2="384.2" stroke="#111" stroke-width="1.15"/>
<line x1="54.0" y1="516.6" x2="54.0" y2="519.8000000000001" stroke="#111" stroke-width="0.8"/>
<line x1="65.3" y1="516.6" x2="65.3" y2="518.4" stroke="#111" stroke-width="0.8"/>
<line x1="71.9" y1="516.6" x2="71.9" y2="518.4" stroke="#111" stroke-width="0.8"/>
<line x1="76.6" y1="516.6" x2="76.6" y2="518.4" stroke="#111" stroke-width="0.8"/>
<line x1="80.2" y1="516.6" x2="80.2" y2="518.4" stroke="#111" stroke-width="0.8"/>
<line x1="83.2" y1="516.6" x2="83.2" y2="518.4" stroke="#111" stroke-width="0.8"/>
<line x1="85.7" y1="516.6" x2="85.7" y2="518.4" stroke="#111" stroke-width="0.8"/>
<line x1="87.9" y1="516.6" x2="87.9" y2="518.4" stroke="#111" stroke-width="0.8"/>
<line x1="89.8" y1="516.6" x2="89.8" y2="518.4" stroke="#111" stroke-width="0.8"/>
<line x1="91.5" y1="516.6" x2="91.5" y2="519.8000000000001" stroke="#111" stroke-width="0.8"/>
<line x1="102.9" y1="516.6" x2="102.9" y2="518.4" stroke="#111" stroke-width="0.8"/>
<line x1="109.5" y1="516.6" x2="109.5" y2="518.4" stroke="#111" stroke-width="0.8"/>
<line x1="114.2" y1="516.6" x2="114.2" y2="518.4" stroke="#111" stroke-width="0.8"/>
<line x1="117.8" y1="516.6" x2="117.8" y2="518.4" stroke="#111" stroke-width="0.8"/>
<line x1="120.8" y1="516.6" x2="120.8" y2="518.4" stroke="#111" stroke-width="0.8"/>
<line x1="123.3" y1="516.6" x2="123.3" y2="518.4" stroke="#111" stroke-width="0.8"/>
<line x1="125.5" y1="516.6" x2="125.5" y2="518.4" stroke="#111" stroke-width="0.8"/>
<line x1="127.4" y1="516.6" x2="127.4" y2="518.4" stroke="#111" stroke-width="0.8"/>
<line x1="129.1" y1="516.6" x2="129.1" y2="519.8000000000001" stroke="#111" stroke-width="0.8"/>
<line x1="140.4" y1="516.6" x2="140.4" y2="518.4" stroke="#111" stroke-width="0.8"/>
<line x1="147.0" y1="516.6" x2="147.0" y2="518.4" stroke="#111" stroke-width="0.8"/>
<line x1="151.7" y1="516.6" x2="151.7" y2="518.4" stroke="#111" stroke-width="0.8"/>
<line x1="155.3" y1="516.6" x2="155.3" y2="518.4" stroke="#111" stroke-width="0.8"/>
<line x1="158.3" y1="516.6" x2="158.3" y2="518.4" stroke="#111" stroke-width="0.8"/>
<line x1="160.8" y1="516.6" x2="160.8" y2="518.4" stroke="#111" stroke-width="0.8"/>
<line x1="163.0" y1="516.6" x2="163.0" y2="518.4" stroke="#111" stroke-width="0.8"/>
<line x1="164.9" y1="516.6" x2="164.9" y2="518.4" stroke="#111" stroke-width="0.8"/>
<line x1="166.6" y1="516.6" x2="166.6" y2="519.8000000000001" stroke="#111" stroke-width="0.8"/>
<line x1="178.0" y1="516.6" x2="178.0" y2="518.4" stroke="#111" stroke-width="0.8"/>
<line x1="184.6" y1="516.6" x2="184.6" y2="518.4" stroke="#111" stroke-width="0.8"/>
<line x1="189.3" y1="516.6" x2="189.3" y2="518.4" stroke="#111" stroke-width="0.8"/>
<line x1="192.9" y1="516.6" x2="192.9" y2="518.4" stroke="#111" stroke-width="0.8"/>
<line x1="195.9" y1="516.6" x2="195.9" y2="518.4" stroke="#111" stroke-width="0.8"/>
<line x1="198.4" y1="516.6" x2="198.4" y2="518.4" stroke="#111" stroke-width="0.8"/>
<line x1="200.6" y1="516.6" x2="200.6" y2="518.4" stroke="#111" stroke-width="0.8"/>
<line x1="202.5" y1="516.6" x2="202.5" y2="518.4" stroke="#111" stroke-width="0.8"/>
<text x="19.6" y="410.4" font-size="18" textLength="29" lengthAdjust="spacingAndGlyphs" >120</text>
<text x="29.200000000000003" y="441.2" font-size="18" textLength="19.4" lengthAdjust="spacingAndGlyphs" >90</text>
<text x="29.200000000000003" y="469.0" font-size="18" textLength="19.4" lengthAdjust="spacingAndGlyphs" >60</text>
<text x="29.200000000000003" y="496.0" font-size="18" textLength="19.4" lengthAdjust="spacingAndGlyphs" >30</text>
<text x="38.8" y="523.0" font-size="18" textLength="9.8" lengthAdjust="spacingAndGlyphs" >0</text>
<text x="71" y="401.4" font-size="20" textLength="115.5" lengthAdjust="spacingAndGlyphs" >Unstimulated</text>
<text x="119" y="437" font-size="20" textLength="82.8" lengthAdjust="spacingAndGlyphs" >MFI:10.9</text>
<path d="M207.9 516.6L207.9 507.1L208.7 507.1L209.4 507.1L210.2 514.7L210.9 513.0L211.7 513.1L212.4 513.2L213.2 514.0L213.9 513.1L214.7 513.0L215.4 513.0L216.2 514.0L216.9 513.2L217.7 513.2L218.4 511.9L219.2 510.5L219.9 510.1L220.7 510.7L221.4 510.4L222.2 510.6L222.9 511.4L223.7 511.6L224.4 510.4L225.2 510.9L225.9 510.9L226.7 509.5L227.4 510.7L228.2 510.5L228.9 510.9L229.7 511.0L230.4 509.6L231.2 509.6L231.9 507.9L232.7 506.6L233.4 508.1L234.2 510.0L234.9 508.2L235.7 508.8L236.4 509.1L237.2 508.4L237.9 508.7L238.7 508.5L239.4 509.7L240.2 507.7L240.9 507.6L241.7 510.0L242.4 508.1L243.2 508.2L243.9 509.0L244.7 508.8L245.4 508.9L246.2 507.5L246.9 508.9L247.7 507.8L248.4 509.0L249.2 506.7L249.9 506.1L250.7 506.8L251.4 505.7L252.2 503.7L252.9 503.6L253.7 503.7L254.4 504.0L255.2 502.9L255.9 500.6L256.6 502.1L257.4 498.2L258.1 499.2L258.9 494.3L259.6 495.3L260.4 490.2L261.1 489.6L261.9 488.8L262.6 487.1L263.4 485.1L264.1 484.2L264.9 484.7L265.6 484.1L266.4 480.9L267.1 476.9L267.9 477.7L268.6 480.3L269.4 473.8L270.1 472.9L270.9 469.5L271.6 473.0L272.4 466.6L273.1 470.2L273.9 463.2L274.6 464.3L275.4 462.7L276.1 454.6L276.9 459.6L277.6 454.4L278.4 452.6L279.1 457.9L279.9 458.6L280.6 452.7L281.4 459.8L282.1 461.2L282.9 470.9L283.6 472.1L284.4 477.4L285.1 477.1L285.9 482.9L286.6 479.1L287.4 486.8L288.1 484.4L288.9 490.3L289.6 490.8L290.4 488.6L291.1 492.5L291.9 492.7L292.6 490.4L293.4 492.4L294.1 494.5L294.9 490.0L295.6 495.4L296.4 497.0L297.1 496.6L297.9 496.5L298.6 497.0L299.4 500.9L300.1 501.1L300.9 503.8L301.6 503.6L302.4 504.0L303.1 505.6L303.9 506.6L304.6 508.6L305.4 509.2L306.1 510.4L306.9 511.7L307.6 513.1L308.4 512.6L309.1 514.1L309.9 514.8L310.6 514.5L311.4 513.4L312.1 514.8L312.9 514.1L313.6 514.6L314.4 514.3L315.1 514.8L315.9 513.2L316.6 514.8L317.4 514.1L318.1 514.6L318.9 514.8L319.6 514.3L320.4 514.8L321.1 514.8L321.9 514.8L322.6 514.8L323.4 514.8L324.1 514.1L324.9 514.5L325.6 513.3L326.4 513.4L327.1 513.3L327.9 514.8L328.6 514.7L329.4 514.8L330.1 514.3L330.9 514.2L331.6 513.8L332.4 514.0L333.1 514.8L333.9 514.8L334.6 514.5L335.4 514.8L336.1 514.8L336.9 514.8L337.6 514.8L338.4 514.1L339.1 514.8L339.9 514.8L340.6 514.8L341.4 514.8L342.1 514.8L342.9 514.6L343.6 514.8L344.4 514.8L345.1 514.3L345.9 514.8L346.6 513.7L347.4 513.6L348.1 514.2L348.9 514.8L349.6 514.7L350.4 514.5L351.1 514.8L351.9 514.8L352.6 514.7L353.4 514.8L354.1 514.8L354.9 514.0L355.6 514.8L356.4 514.8L357.1 513.8L357.9 514.5L358.6 516.6Z" fill="#151515"/>
<rect x="207.9" y="380.2" width="150.70000000000002" height="136.40000000000003" fill="none" stroke="#111" stroke-width="1.4"/>
<line x1="208.20000000000002" y1="380.2" x2="208.20000000000002" y2="516.6" stroke="#111" stroke-width="2"/>
<line x1="203.70000000000002" y1="516.6" x2="207.9" y2="516.6" stroke="#111" stroke-width="1.15"/>
<line x1="205.3" y1="512.0" x2="207.9" y2="512.0" stroke="#111" stroke-width="1.15"/>
<line x1="205.3" y1="507.5" x2="207.9" y2="507.5" stroke="#111" stroke-width="1.15"/>
<line x1="205.3" y1="502.9" x2="207.9" y2="502.9" stroke="#111" stroke-width="1.15"/>
<line x1="205.3" y1="498.3" x2="207.9" y2="498.3" stroke="#111" stroke-width="1.15"/>
<line x1="205.3" y1="493.8" x2="207.9" y2="493.8" stroke="#111" stroke-width="1.15"/>
<line x1="203.70000000000002" y1="489.2" x2="207.9" y2="489.2" stroke="#111" stroke-width="1.15"/>
<line x1="205.3" y1="484.6" x2="207.9" y2="484.6" stroke="#111" stroke-width="1.15"/>
<line x1="205.3" y1="480.1" x2="207.9" y2="480.1" stroke="#111" stroke-width="1.15"/>
<line x1="205.3" y1="475.5" x2="207.9" y2="475.5" stroke="#111" stroke-width="1.15"/>
<line x1="205.3" y1="470.9" x2="207.9" y2="470.9" stroke="#111" stroke-width="1.15"/>
<line x1="205.3" y1="466.4" x2="207.9" y2="466.4" stroke="#111" stroke-width="1.15"/>
<line x1="203.70000000000002" y1="461.8" x2="207.9" y2="461.8" stroke="#111" stroke-width="1.15"/>
<line x1="205.3" y1="457.2" x2="207.9" y2="457.2" stroke="#111" stroke-width="1.15"/>
<line x1="205.3" y1="452.7" x2="207.9" y2="452.7" stroke="#111" stroke-width="1.15"/>
<line x1="205.3" y1="448.1" x2="207.9" y2="448.1" stroke="#111" stroke-width="1.15"/>
<line x1="205.3" y1="443.5" x2="207.9" y2="443.5" stroke="#111" stroke-width="1.15"/>
<line x1="205.3" y1="439.0" x2="207.9" y2="439.0" stroke="#111" stroke-width="1.15"/>
<line x1="203.70000000000002" y1="434.4" x2="207.9" y2="434.4" stroke="#111" stroke-width="1.15"/>
<line x1="205.3" y1="429.8" x2="207.9" y2="429.8" stroke="#111" stroke-width="1.15"/>
<line x1="205.3" y1="425.3" x2="207.9" y2="425.3" stroke="#111" stroke-width="1.15"/>
<line x1="205.3" y1="420.7" x2="207.9" y2="420.7" stroke="#111" stroke-width="1.15"/>
<line x1="205.3" y1="416.1" x2="207.9" y2="416.1" stroke="#111" stroke-width="1.15"/>
<line x1="205.3" y1="411.6" x2="207.9" y2="411.6" stroke="#111" stroke-width="1.15"/>
<line x1="203.70000000000002" y1="407.0" x2="207.9" y2="407.0" stroke="#111" stroke-width="1.15"/>
<line x1="205.3" y1="402.4" x2="207.9" y2="402.4" stroke="#111" stroke-width="1.15"/>
<line x1="205.3" y1="397.9" x2="207.9" y2="397.9" stroke="#111" stroke-width="1.15"/>
<line x1="205.3" y1="393.3" x2="207.9" y2="393.3" stroke="#111" stroke-width="1.15"/>
<line x1="205.3" y1="388.7" x2="207.9" y2="388.7" stroke="#111" stroke-width="1.15"/>
<line x1="205.3" y1="384.2" x2="207.9" y2="384.2" stroke="#111" stroke-width="1.15"/>
<line x1="207.9" y1="516.6" x2="207.9" y2="519.8000000000001" stroke="#111" stroke-width="0.8"/>
<line x1="219.2" y1="516.6" x2="219.2" y2="518.4" stroke="#111" stroke-width="0.8"/>
<line x1="225.9" y1="516.6" x2="225.9" y2="518.4" stroke="#111" stroke-width="0.8"/>
<line x1="230.6" y1="516.6" x2="230.6" y2="518.4" stroke="#111" stroke-width="0.8"/>
<line x1="234.2" y1="516.6" x2="234.2" y2="518.4" stroke="#111" stroke-width="0.8"/>
<line x1="237.2" y1="516.6" x2="237.2" y2="518.4" stroke="#111" stroke-width="0.8"/>
<line x1="239.7" y1="516.6" x2="239.7" y2="518.4" stroke="#111" stroke-width="0.8"/>
<line x1="241.9" y1="516.6" x2="241.9" y2="518.4" stroke="#111" stroke-width="0.8"/>
<line x1="243.9" y1="516.6" x2="243.9" y2="518.4" stroke="#111" stroke-width="0.8"/>
<line x1="245.6" y1="516.6" x2="245.6" y2="519.8000000000001" stroke="#111" stroke-width="0.8"/>
<line x1="256.9" y1="516.6" x2="256.9" y2="518.4" stroke="#111" stroke-width="0.8"/>
<line x1="263.6" y1="516.6" x2="263.6" y2="518.4" stroke="#111" stroke-width="0.8"/>
<line x1="268.3" y1="516.6" x2="268.3" y2="518.4" stroke="#111" stroke-width="0.8"/>
<line x1="271.9" y1="516.6" x2="271.9" y2="518.4" stroke="#111" stroke-width="0.8"/>
<line x1="274.9" y1="516.6" x2="274.9" y2="518.4" stroke="#111" stroke-width="0.8"/>
<line x1="277.4" y1="516.6" x2="277.4" y2="518.4" stroke="#111" stroke-width="0.8"/>
<line x1="279.6" y1="516.6" x2="279.6" y2="518.4" stroke="#111" stroke-width="0.8"/>
<line x1="281.5" y1="516.6" x2="281.5" y2="518.4" stroke="#111" stroke-width="0.8"/>
<line x1="283.2" y1="516.6" x2="283.2" y2="519.8000000000001" stroke="#111" stroke-width="0.8"/>
<line x1="294.6" y1="516.6" x2="294.6" y2="518.4" stroke="#111" stroke-width="0.8"/>
<line x1="301.2" y1="516.6" x2="301.2" y2="518.4" stroke="#111" stroke-width="0.8"/>
<line x1="305.9" y1="516.6" x2="305.9" y2="518.4" stroke="#111" stroke-width="0.8"/>
<line x1="309.6" y1="516.6" x2="309.6" y2="518.4" stroke="#111" stroke-width="0.8"/>
<line x1="312.6" y1="516.6" x2="312.6" y2="518.4" stroke="#111" stroke-width="0.8"/>
<line x1="315.1" y1="516.6" x2="315.1" y2="518.4" stroke="#111" stroke-width="0.8"/>
<line x1="317.3" y1="516.6" x2="317.3" y2="518.4" stroke="#111" stroke-width="0.8"/>
<line x1="319.2" y1="516.6" x2="319.2" y2="518.4" stroke="#111" stroke-width="0.8"/>
<line x1="320.9" y1="516.6" x2="320.9" y2="519.8000000000001" stroke="#111" stroke-width="0.8"/>
<line x1="332.3" y1="516.6" x2="332.3" y2="518.4" stroke="#111" stroke-width="0.8"/>
<line x1="338.9" y1="516.6" x2="338.9" y2="518.4" stroke="#111" stroke-width="0.8"/>
<line x1="343.6" y1="516.6" x2="343.6" y2="518.4" stroke="#111" stroke-width="0.8"/>
<line x1="347.3" y1="516.6" x2="347.3" y2="518.4" stroke="#111" stroke-width="0.8"/>
<line x1="350.2" y1="516.6" x2="350.2" y2="518.4" stroke="#111" stroke-width="0.8"/>
<line x1="352.8" y1="516.6" x2="352.8" y2="518.4" stroke="#111" stroke-width="0.8"/>
<line x1="354.9" y1="516.6" x2="354.9" y2="518.4" stroke="#111" stroke-width="0.8"/>
<line x1="356.9" y1="516.6" x2="356.9" y2="518.4" stroke="#111" stroke-width="0.8"/>
<text x="262.8" y="400.6" font-size="20" textLength="45" lengthAdjust="spacingAndGlyphs" >PMA</text>
<text x="264.8" y="436.7" font-size="20" textLength="81.3" lengthAdjust="spacingAndGlyphs" >MFI:92.3</text>
<path d="M362.3 516.4L362.3 458.4L363.1 458.4L363.8 458.4L364.6 512.4L365.3 512.3L366.1 513.8L366.8 513.9L367.6 511.7L368.3 513.3L369.1 513.4L369.8 511.3L370.6 512.3L371.3 510.2L372.1 510.1L372.8 508.5L373.6 509.0L374.3 506.2L375.1 505.0L375.8 505.7L376.6 504.5L377.3 504.3L378.1 506.1L378.8 503.1L379.6 502.5L380.3 501.1L381.1 499.8L381.8 493.4L382.6 492.7L383.3 484.0L384.1 475.1L384.8 468.5L385.6 458.5L386.3 454.3L387.1 441.2L387.8 436.0L388.6 420.0L389.3 410.7L390.1 414.4L390.8 409.5L391.6 408.1L392.3 400.9L393.1 408.3L393.8 412.1L394.6 425.6L395.3 432.8L396.1 444.1L396.8 454.2L397.6 459.4L398.3 466.9L399.1 472.1L399.8 479.3L400.6 482.3L401.3 487.4L402.1 490.2L402.8 493.0L403.6 496.6L404.3 494.4L405.1 495.1L405.8 496.5L406.6 499.1L407.3 499.9L408.1 503.4L408.8 502.5L409.6 504.6L410.3 505.9L411.1 507.0L411.8 504.5L412.6 504.3L413.3 507.7L414.1 505.6L414.8 507.2L415.6 508.4L416.3 508.2L417.1 506.9L417.8 506.9L418.6 509.8L419.3 508.3L420.1 510.4L420.8 508.6L421.6 510.1L422.3 508.7L423.1 508.7L423.8 510.4L424.6 509.3L425.3 511.6L426.1 512.6L426.8 511.4L427.6 513.2L428.3 513.1L429.1 512.8L429.8 512.4L430.6 513.7L431.3 514.0L432.1 511.9L432.8 513.4L433.6 511.8L434.3 512.0L435.1 513.5L435.8 513.3L436.6 513.2L437.3 513.0L438.1 513.2L438.8 513.3L439.6 513.2L440.3 512.5L441.1 513.7L441.8 513.9L442.6 513.3L443.3 514.6L444.1 514.5L444.8 512.8L445.6 514.0L446.3 514.0L447.1 514.6L447.8 514.5L448.6 514.2L449.3 514.6L450.1 514.2L450.8 514.2L451.6 514.6L452.3 514.3L453.1 514.6L453.8 514.2L454.6 514.6L455.3 514.1L456.1 514.1L456.8 514.6L457.6 514.6L458.3 514.2L459.1 513.5L459.8 514.6L460.6 514.6L461.3 514.5L462.1 514.6L462.8 514.6L463.6 514.6L464.3 514.6L465.1 514.5L465.8 514.6L466.6 514.6L467.3 514.1L468.1 514.6L468.8 514.6L469.6 514.2L470.3 514.6L471.1 514.6L471.8 514.0L472.6 514.6L473.3 514.6L474.1 514.6L474.8 514.3L475.6 514.6L476.3 514.6L477.1 514.6L477.8 514.0L478.6 514.6L479.3 514.0L480.1 514.6L480.8 514.6L481.6 514.5L482.3 513.9L483.1 514.6L483.8 514.6L484.6 514.6L485.3 514.6L486.1 514.6L486.8 514.2L487.6 514.1L488.3 514.6L489.1 514.6L489.8 514.2L490.6 514.6L491.3 514.2L492.1 514.6L492.8 514.6L493.6 514.6L494.3 514.3L495.1 514.6L495.8 514.6L496.6 514.6L497.3 514.6L498.1 514.6L498.8 514.0L499.6 514.6L500.3 514.6L501.1 514.0L501.8 514.1L502.6 513.9L503.3 514.6L504.1 514.0L504.8 514.0L505.6 514.6L506.3 514.5L507.1 514.3L507.8 514.6L508.6 514.6L509.3 514.6L510.1 514.6L510.8 514.6L511.6 514.6L512.3 514.6L513.0 514.6L513.8 514.4L514.5 514.6L515.2 516.4Z" fill="#151515"/>
<rect x="362.3" y="380.2" width="152.90000000000003" height="136.2" fill="none" stroke="#111" stroke-width="1.4"/>
<line x1="362.6" y1="380.2" x2="362.6" y2="516.4" stroke="#111" stroke-width="2"/>
<line x1="358.1" y1="516.4" x2="362.3" y2="516.4" stroke="#111" stroke-width="1.15"/>
<line x1="359.7" y1="511.8" x2="362.3" y2="511.8" stroke="#111" stroke-width="1.15"/>
<line x1="359.7" y1="507.3" x2="362.3" y2="507.3" stroke="#111" stroke-width="1.15"/>
<line x1="359.7" y1="502.7" x2="362.3" y2="502.7" stroke="#111" stroke-width="1.15"/>
<line x1="359.7" y1="498.1" x2="362.3" y2="498.1" stroke="#111" stroke-width="1.15"/>
<line x1="359.7" y1="493.6" x2="362.3" y2="493.6" stroke="#111" stroke-width="1.15"/>
<line x1="358.1" y1="489.0" x2="362.3" y2="489.0" stroke="#111" stroke-width="1.15"/>
<line x1="359.7" y1="484.4" x2="362.3" y2="484.4" stroke="#111" stroke-width="1.15"/>
<line x1="359.7" y1="479.9" x2="362.3" y2="479.9" stroke="#111" stroke-width="1.15"/>
<line x1="359.7" y1="475.3" x2="362.3" y2="475.3" stroke="#111" stroke-width="1.15"/>
<line x1="359.7" y1="470.7" x2="362.3" y2="470.7" stroke="#111" stroke-width="1.15"/>
<line x1="359.7" y1="466.2" x2="362.3" y2="466.2" stroke="#111" stroke-width="1.15"/>
<line x1="358.1" y1="461.6" x2="362.3" y2="461.6" stroke="#111" stroke-width="1.15"/>
<line x1="359.7" y1="457.0" x2="362.3" y2="457.0" stroke="#111" stroke-width="1.15"/>
<line x1="359.7" y1="452.5" x2="362.3" y2="452.5" stroke="#111" stroke-width="1.15"/>
<line x1="359.7" y1="447.9" x2="362.3" y2="447.9" stroke="#111" stroke-width="1.15"/>
<line x1="359.7" y1="443.3" x2="362.3" y2="443.3" stroke="#111" stroke-width="1.15"/>
<line x1="359.7" y1="438.8" x2="362.3" y2="438.8" stroke="#111" stroke-width="1.15"/>
<line x1="358.1" y1="434.2" x2="362.3" y2="434.2" stroke="#111" stroke-width="1.15"/>
<line x1="359.7" y1="429.6" x2="362.3" y2="429.6" stroke="#111" stroke-width="1.15"/>
<line x1="359.7" y1="425.1" x2="362.3" y2="425.1" stroke="#111" stroke-width="1.15"/>
<line x1="359.7" y1="420.5" x2="362.3" y2="420.5" stroke="#111" stroke-width="1.15"/>
<line x1="359.7" y1="415.9" x2="362.3" y2="415.9" stroke="#111" stroke-width="1.15"/>
<line x1="359.7" y1="411.4" x2="362.3" y2="411.4" stroke="#111" stroke-width="1.15"/>
<line x1="358.1" y1="406.8" x2="362.3" y2="406.8" stroke="#111" stroke-width="1.15"/>
<line x1="359.7" y1="402.2" x2="362.3" y2="402.2" stroke="#111" stroke-width="1.15"/>
<line x1="359.7" y1="397.7" x2="362.3" y2="397.7" stroke="#111" stroke-width="1.15"/>
<line x1="359.7" y1="393.1" x2="362.3" y2="393.1" stroke="#111" stroke-width="1.15"/>
<line x1="359.7" y1="388.5" x2="362.3" y2="388.5" stroke="#111" stroke-width="1.15"/>
<line x1="359.7" y1="384.0" x2="362.3" y2="384.0" stroke="#111" stroke-width="1.15"/>
<line x1="362.3" y1="516.4" x2="362.3" y2="519.6" stroke="#111" stroke-width="0.8"/>
<line x1="373.8" y1="516.4" x2="373.8" y2="518.1999999999999" stroke="#111" stroke-width="0.8"/>
<line x1="380.5" y1="516.4" x2="380.5" y2="518.1999999999999" stroke="#111" stroke-width="0.8"/>
<line x1="385.3" y1="516.4" x2="385.3" y2="518.1999999999999" stroke="#111" stroke-width="0.8"/>
<line x1="389.0" y1="516.4" x2="389.0" y2="518.1999999999999" stroke="#111" stroke-width="0.8"/>
<line x1="392.0" y1="516.4" x2="392.0" y2="518.1999999999999" stroke="#111" stroke-width="0.8"/>
<line x1="394.6" y1="516.4" x2="394.6" y2="518.1999999999999" stroke="#111" stroke-width="0.8"/>
<line x1="396.8" y1="516.4" x2="396.8" y2="518.1999999999999" stroke="#111" stroke-width="0.8"/>
<line x1="398.8" y1="516.4" x2="398.8" y2="518.1999999999999" stroke="#111" stroke-width="0.8"/>
<line x1="400.5" y1="516.4" x2="400.5" y2="519.6" stroke="#111" stroke-width="0.8"/>
<line x1="412.0" y1="516.4" x2="412.0" y2="518.1999999999999" stroke="#111" stroke-width="0.8"/>
<line x1="418.8" y1="516.4" x2="418.8" y2="518.1999999999999" stroke="#111" stroke-width="0.8"/>
<line x1="423.5" y1="516.4" x2="423.5" y2="518.1999999999999" stroke="#111" stroke-width="0.8"/>
<line x1="427.2" y1="516.4" x2="427.2" y2="518.1999999999999" stroke="#111" stroke-width="0.8"/>
<line x1="430.3" y1="516.4" x2="430.3" y2="518.1999999999999" stroke="#111" stroke-width="0.8"/>
<line x1="432.8" y1="516.4" x2="432.8" y2="518.1999999999999" stroke="#111" stroke-width="0.8"/>
<line x1="435.0" y1="516.4" x2="435.0" y2="518.1999999999999" stroke="#111" stroke-width="0.8"/>
<line x1="437.0" y1="516.4" x2="437.0" y2="518.1999999999999" stroke="#111" stroke-width="0.8"/>
<line x1="438.8" y1="516.4" x2="438.8" y2="519.6" stroke="#111" stroke-width="0.8"/>
<line x1="450.3" y1="516.4" x2="450.3" y2="518.1999999999999" stroke="#111" stroke-width="0.8"/>
<line x1="457.0" y1="516.4" x2="457.0" y2="518.1999999999999" stroke="#111" stroke-width="0.8"/>
<line x1="461.8" y1="516.4" x2="461.8" y2="518.1999999999999" stroke="#111" stroke-width="0.8"/>
<line x1="465.5" y1="516.4" x2="465.5" y2="518.1999999999999" stroke="#111" stroke-width="0.8"/>
<line x1="468.5" y1="516.4" x2="468.5" y2="518.1999999999999" stroke="#111" stroke-width="0.8"/>
<line x1="471.1" y1="516.4" x2="471.1" y2="518.1999999999999" stroke="#111" stroke-width="0.8"/>
<line x1="473.3" y1="516.4" x2="473.3" y2="518.1999999999999" stroke="#111" stroke-width="0.8"/>
<line x1="475.2" y1="516.4" x2="475.2" y2="518.1999999999999" stroke="#111" stroke-width="0.8"/>
<line x1="477.0" y1="516.4" x2="477.0" y2="519.6" stroke="#111" stroke-width="0.8"/>
<line x1="488.5" y1="516.4" x2="488.5" y2="518.1999999999999" stroke="#111" stroke-width="0.8"/>
<line x1="495.2" y1="516.4" x2="495.2" y2="518.1999999999999" stroke="#111" stroke-width="0.8"/>
<line x1="500.0" y1="516.4" x2="500.0" y2="518.1999999999999" stroke="#111" stroke-width="0.8"/>
<line x1="503.7" y1="516.4" x2="503.7" y2="518.1999999999999" stroke="#111" stroke-width="0.8"/>
<line x1="506.7" y1="516.4" x2="506.7" y2="518.1999999999999" stroke="#111" stroke-width="0.8"/>
<line x1="509.3" y1="516.4" x2="509.3" y2="518.1999999999999" stroke="#111" stroke-width="0.8"/>
<line x1="511.5" y1="516.4" x2="511.5" y2="518.1999999999999" stroke="#111" stroke-width="0.8"/>
<line x1="513.5" y1="516.4" x2="513.5" y2="518.1999999999999" stroke="#111" stroke-width="0.8"/>
<text x="401.7" y="400.6" font-size="20" textLength="92" lengthAdjust="spacingAndGlyphs" >PMA+NIF</text>
<text x="423.4" y="436.2" font-size="20" textLength="81" lengthAdjust="spacingAndGlyphs" >MFI:9.27</text>
<path d="M53.6 658.7L53.6 651.7L54.4 651.7L55.1 654.2L55.9 654.9L56.6 654.9L57.4 653.8L58.1 652.1L58.9 652.3L59.6 652.2L60.4 653.4L61.1 652.2L61.9 652.6L62.6 652.6L63.4 652.5L64.1 651.8L64.8 649.2L65.6 649.1L66.3 648.8L67.1 648.5L67.8 649.6L68.6 648.2L69.3 646.1L70.1 644.8L70.8 643.3L71.6 642.2L72.3 643.7L73.1 638.0L73.8 634.3L74.6 631.7L75.3 630.3L76.1 622.8L76.8 618.8L77.6 605.3L78.3 598.8L79.1 595.1L79.8 591.3L80.6 578.1L81.3 573.6L82.1 561.3L82.8 558.7L83.6 566.3L84.3 571.6L85.1 575.8L85.8 585.5L86.6 595.9L87.3 601.6L88.1 603.8L88.8 616.7L89.6 622.9L90.3 620.7L91.1 624.7L91.8 624.7L92.6 626.8L93.3 629.3L94.1 627.2L94.8 633.5L95.6 634.3L96.3 637.3L97.1 637.2L97.8 640.9L98.6 642.5L99.3 642.9L100.1 645.6L100.8 645.1L101.6 644.3L102.3 647.8L103.1 648.5L103.8 648.3L104.6 646.9L105.3 647.9L106.1 649.7L106.8 649.9L107.6 650.7L108.3 650.1L109.1 651.7L109.8 649.8L110.6 649.4L111.3 649.5L112.1 650.5L112.8 650.1L113.6 653.2L114.3 652.6L115.1 650.9L115.8 651.7L116.6 653.0L117.3 651.8L118.1 653.0L118.8 652.7L119.6 654.4L120.3 654.9L121.1 654.5L121.8 655.6L122.6 655.2L123.3 653.9L124.1 655.8L124.8 656.9L125.6 656.9L126.3 656.9L127.1 655.7L127.8 656.8L128.6 656.9L129.3 656.9L130.1 655.3L130.8 656.7L131.6 656.9L132.3 656.9L133.1 656.9L133.8 656.9L134.6 656.1L135.3 656.9L136.1 656.9L136.8 656.6L137.6 656.9L138.3 655.3L139.1 656.9L139.8 656.5L140.6 655.9L141.3 656.8L142.1 655.4L142.8 656.7L143.6 656.9L144.3 656.9L145.1 656.9L145.8 656.9L146.6 656.9L147.3 655.7L148.1 655.9L148.8 656.7L149.6 656.9L150.3 656.9L151.1 656.9L151.8 656.9L152.6 656.9L153.3 655.8L154.1 656.9L154.8 656.9L155.6 655.7L156.3 656.6L157.1 655.6L157.8 656.9L158.6 655.8L159.3 656.5L160.1 656.1L160.8 656.3L161.6 656.9L162.3 656.9L163.1 656.9L163.8 656.0L164.6 655.9L165.3 655.9L166.1 656.9L166.8 656.6L167.6 656.2L168.3 656.6L169.1 656.2L169.8 656.9L170.6 656.6L171.3 656.5L172.1 656.9L172.8 656.0L173.6 655.9L174.3 656.9L175.1 655.9L175.8 655.9L176.6 656.7L177.3 656.9L178.1 656.1L178.8 656.9L179.6 656.0L180.3 656.7L181.1 656.9L181.8 656.9L182.6 656.8L183.3 656.9L184.1 656.6L184.8 656.1L185.6 656.9L186.3 656.9L187.1 656.2L187.8 656.9L188.6 656.3L189.3 656.9L190.1 656.5L190.8 656.6L191.6 656.3L192.3 656.9L193.1 656.4L193.8 656.9L194.6 656.9L195.3 656.9L196.1 656.4L196.8 656.7L197.6 656.9L198.3 656.9L199.1 656.9L199.8 656.9L200.6 656.9L201.3 656.9L202.1 656.5L202.8 656.9L203.6 656.9L204.3 658.7Z" fill="#151515"/>
<rect x="53.6" y="521.9" width="150.70000000000002" height="136.80000000000007" fill="none" stroke="#111" stroke-width="1.4"/>
<line x1="53.9" y1="521.9" x2="53.9" y2="658.7" stroke="#111" stroke-width="2"/>
<line x1="49.4" y1="658.7" x2="53.6" y2="658.7" stroke="#111" stroke-width="1.15"/>
<line x1="51.0" y1="654.1" x2="53.6" y2="654.1" stroke="#111" stroke-width="1.15"/>
<line x1="51.0" y1="649.6" x2="53.6" y2="649.6" stroke="#111" stroke-width="1.15"/>
<line x1="51.0" y1="645.0" x2="53.6" y2="645.0" stroke="#111" stroke-width="1.15"/>
<line x1="51.0" y1="640.4" x2="53.6" y2="640.4" stroke="#111" stroke-width="1.15"/>
<line x1="51.0" y1="635.9" x2="53.6" y2="635.9" stroke="#111" stroke-width="1.15"/>
<line x1="49.4" y1="631.3" x2="53.6" y2="631.3" stroke="#111" stroke-width="1.15"/>
<line x1="51.0" y1="626.7" x2="53.6" y2="626.7" stroke="#111" stroke-width="1.15"/>
<line x1="51.0" y1="622.2" x2="53.6" y2="622.2" stroke="#111" stroke-width="1.15"/>
<line x1="51.0" y1="617.6" x2="53.6" y2="617.6" stroke="#111" stroke-width="1.15"/>
<line x1="51.0" y1="613.0" x2="53.6" y2="613.0" stroke="#111" stroke-width="1.15"/>
<line x1="51.0" y1="608.5" x2="53.6" y2="608.5" stroke="#111" stroke-width="1.15"/>
<line x1="49.4" y1="603.9" x2="53.6" y2="603.9" stroke="#111" stroke-width="1.15"/>
<line x1="51.0" y1="599.3" x2="53.6" y2="599.3" stroke="#111" stroke-width="1.15"/>
<line x1="51.0" y1="594.8" x2="53.6" y2="594.8" stroke="#111" stroke-width="1.15"/>
<line x1="51.0" y1="590.2" x2="53.6" y2="590.2" stroke="#111" stroke-width="1.15"/>
<line x1="51.0" y1="585.6" x2="53.6" y2="585.6" stroke="#111" stroke-width="1.15"/>
<line x1="51.0" y1="581.1" x2="53.6" y2="581.1" stroke="#111" stroke-width="1.15"/>
<line x1="49.4" y1="576.5" x2="53.6" y2="576.5" stroke="#111" stroke-width="1.15"/>
<line x1="51.0" y1="571.9" x2="53.6" y2="571.9" stroke="#111" stroke-width="1.15"/>
<line x1="51.0" y1="567.4" x2="53.6" y2="567.4" stroke="#111" stroke-width="1.15"/>
<line x1="51.0" y1="562.8" x2="53.6" y2="562.8" stroke="#111" stroke-width="1.15"/>
<line x1="51.0" y1="558.2" x2="53.6" y2="558.2" stroke="#111" stroke-width="1.15"/>
<line x1="51.0" y1="553.7" x2="53.6" y2="553.7" stroke="#111" stroke-width="1.15"/>
<line x1="49.4" y1="549.1" x2="53.6" y2="549.1" stroke="#111" stroke-width="1.15"/>
<line x1="51.0" y1="544.5" x2="53.6" y2="544.5" stroke="#111" stroke-width="1.15"/>
<line x1="51.0" y1="540.0" x2="53.6" y2="540.0" stroke="#111" stroke-width="1.15"/>
<line x1="51.0" y1="535.4" x2="53.6" y2="535.4" stroke="#111" stroke-width="1.15"/>
<line x1="51.0" y1="530.8" x2="53.6" y2="530.8" stroke="#111" stroke-width="1.15"/>
<line x1="51.0" y1="526.3" x2="53.6" y2="526.3" stroke="#111" stroke-width="1.15"/>
<line x1="53.6" y1="658.7" x2="53.6" y2="661.9000000000001" stroke="#111" stroke-width="0.8"/>
<line x1="64.9" y1="658.7" x2="64.9" y2="660.5" stroke="#111" stroke-width="0.8"/>
<line x1="71.6" y1="658.7" x2="71.6" y2="660.5" stroke="#111" stroke-width="0.8"/>
<line x1="76.3" y1="658.7" x2="76.3" y2="660.5" stroke="#111" stroke-width="0.8"/>
<line x1="79.9" y1="658.7" x2="79.9" y2="660.5" stroke="#111" stroke-width="0.8"/>
<line x1="82.9" y1="658.7" x2="82.9" y2="660.5" stroke="#111" stroke-width="0.8"/>
<line x1="85.4" y1="658.7" x2="85.4" y2="660.5" stroke="#111" stroke-width="0.8"/>
<line x1="87.6" y1="658.7" x2="87.6" y2="660.5" stroke="#111" stroke-width="0.8"/>
<line x1="89.6" y1="658.7" x2="89.6" y2="660.5" stroke="#111" stroke-width="0.8"/>
<line x1="91.3" y1="658.7" x2="91.3" y2="661.9000000000001" stroke="#111" stroke-width="0.8"/>
<line x1="102.6" y1="658.7" x2="102.6" y2="660.5" stroke="#111" stroke-width="0.8"/>
<line x1="109.3" y1="658.7" x2="109.3" y2="660.5" stroke="#111" stroke-width="0.8"/>
<line x1="114.0" y1="658.7" x2="114.0" y2="660.5" stroke="#111" stroke-width="0.8"/>
<line x1="117.6" y1="658.7" x2="117.6" y2="660.5" stroke="#111" stroke-width="0.8"/>
<line x1="120.6" y1="658.7" x2="120.6" y2="660.5" stroke="#111" stroke-width="0.8"/>
<line x1="123.1" y1="658.7" x2="123.1" y2="660.5" stroke="#111" stroke-width="0.8"/>
<line x1="125.3" y1="658.7" x2="125.3" y2="660.5" stroke="#111" stroke-width="0.8"/>
<line x1="127.2" y1="658.7" x2="127.2" y2="660.5" stroke="#111" stroke-width="0.8"/>
<line x1="129.0" y1="658.7" x2="129.0" y2="661.9000000000001" stroke="#111" stroke-width="0.8"/>
<line x1="140.3" y1="658.7" x2="140.3" y2="660.5" stroke="#111" stroke-width="0.8"/>
<line x1="146.9" y1="658.7" x2="146.9" y2="660.5" stroke="#111" stroke-width="0.8"/>
<line x1="151.6" y1="658.7" x2="151.6" y2="660.5" stroke="#111" stroke-width="0.8"/>
<line x1="155.3" y1="658.7" x2="155.3" y2="660.5" stroke="#111" stroke-width="0.8"/>
<line x1="158.3" y1="658.7" x2="158.3" y2="660.5" stroke="#111" stroke-width="0.8"/>
<line x1="160.8" y1="658.7" x2="160.8" y2="660.5" stroke="#111" stroke-width="0.8"/>
<line x1="163.0" y1="658.7" x2="163.0" y2="660.5" stroke="#111" stroke-width="0.8"/>
<line x1="164.9" y1="658.7" x2="164.9" y2="660.5" stroke="#111" stroke-width="0.8"/>
<line x1="166.6" y1="658.7" x2="166.6" y2="661.9000000000001" stroke="#111" stroke-width="0.8"/>
<line x1="178.0" y1="658.7" x2="178.0" y2="660.5" stroke="#111" stroke-width="0.8"/>
<line x1="184.6" y1="658.7" x2="184.6" y2="660.5" stroke="#111" stroke-width="0.8"/>
<line x1="189.3" y1="658.7" x2="189.3" y2="660.5" stroke="#111" stroke-width="0.8"/>
<line x1="193.0" y1="658.7" x2="193.0" y2="660.5" stroke="#111" stroke-width="0.8"/>
<line x1="195.9" y1="658.7" x2="195.9" y2="660.5" stroke="#111" stroke-width="0.8"/>
<line x1="198.5" y1="658.7" x2="198.5" y2="660.5" stroke="#111" stroke-width="0.8"/>
<line x1="200.6" y1="658.7" x2="200.6" y2="660.5" stroke="#111" stroke-width="0.8"/>
<line x1="202.6" y1="658.7" x2="202.6" y2="660.5" stroke="#111" stroke-width="0.8"/>
<text x="19.6" y="551.4" font-size="18" textLength="29" lengthAdjust="spacingAndGlyphs" >120</text>
<text x="29.200000000000003" y="580.0" font-size="18" textLength="19.4" lengthAdjust="spacingAndGlyphs" >90</text>
<text x="29.200000000000003" y="609.0" font-size="18" textLength="19.4" lengthAdjust="spacingAndGlyphs" >60</text>
<text x="29.200000000000003" y="638.7" font-size="18" textLength="19.4" lengthAdjust="spacingAndGlyphs" >30</text>
<text x="38.8" y="664.9" font-size="18" textLength="9.8" lengthAdjust="spacingAndGlyphs" >0</text>
<text x="45.8" y="681.9" font-size="16" textLength="14.8" lengthAdjust="spacingAndGlyphs" >10</text>
<text x="60.9" y="671.9" font-size="10.8" >0</text>
<text x="80.0" y="681.9" font-size="16" textLength="14.8" lengthAdjust="spacingAndGlyphs" >10</text>
<text x="95.1" y="671.9" font-size="10.8" >1</text>
<text x="119.3" y="681.9" font-size="16" textLength="14.8" lengthAdjust="spacingAndGlyphs" >10</text>
<text x="134.4" y="671.9" font-size="10.8" >2</text>
<text x="157.8" y="681.9" font-size="16" textLength="14.8" lengthAdjust="spacingAndGlyphs" >10</text>
<text x="172.9" y="671.9" font-size="10.8" >3</text>
<text x="63" y="542.7" font-size="20" textLength="98" lengthAdjust="spacingAndGlyphs" >PMA+anti-</text>
<text x="115" y="577.9" font-size="20" textLength="80.4" lengthAdjust="spacingAndGlyphs" >MFI:12.1</text>
<text x="161.2" y="542.7" font-size="20" textLength="13.6" lengthAdjust="spacingAndGlyphs" >α</text>
<text x="175" y="547.4" font-size="13" textLength="11.6" lengthAdjust="spacingAndGlyphs" class="sans" >M</text>
<path d="M208.2 659.1L208.2 576.1L208.9 576.1L209.7 576.1L210.4 654.1L211.2 654.7L211.9 654.2L212.7 656.6L213.4 655.4L214.2 654.1L214.9 654.8L215.7 653.9L216.4 655.7L217.2 654.5L217.9 654.8L218.7 653.7L219.4 653.3L220.2 654.7L220.9 653.8L221.7 652.6L222.4 649.2L223.2 648.2L223.9 648.9L224.7 645.2L225.4 646.3L226.2 643.0L226.9 639.6L227.7 634.8L228.4 624.1L229.2 622.7L229.9 615.9L230.7 602.6L231.4 596.2L232.2 594.9L232.9 581.3L233.7 581.0L234.4 574.4L235.2 575.4L235.9 560.8L236.7 559.5L237.4 560.8L238.2 567.4L238.9 580.1L239.7 584.6L240.4 591.9L241.2 597.7L241.9 604.8L242.7 609.1L243.4 613.3L244.2 624.1L244.9 623.5L245.7 629.6L246.4 633.6L247.2 635.0L247.9 638.6L248.7 641.3L249.4 642.6L250.2 643.6L250.9 645.5L251.7 641.0L252.4 644.9L253.2 643.3L253.9 644.3L254.7 648.7L255.4 647.2L256.2 650.0L256.9 650.7L257.7 653.1L258.4 653.2L259.2 653.0L259.9 650.8L260.7 653.3L261.4 651.9L262.2 651.6L262.9 651.8L263.7 653.8L264.4 654.0L265.2 653.7L265.9 653.2L266.7 655.3L267.4 653.7L268.2 653.8L268.9 653.8L269.7 656.2L270.4 653.9L271.2 656.4L271.9 655.9L272.7 655.3L273.4 654.7L274.2 656.4L274.9 655.0L275.7 656.2L276.4 656.9L277.2 657.1L277.9 657.3L278.7 657.3L279.4 657.3L280.2 656.9L280.9 656.1L281.7 657.3L282.4 657.3L283.2 656.1L283.9 657.3L284.7 657.3L285.4 657.3L286.2 657.1L286.9 656.6L287.7 657.3L288.4 657.3L289.2 657.3L289.9 656.4L290.7 657.3L291.4 657.3L292.2 656.6L292.9 657.3L293.7 656.8L294.4 656.3L295.2 657.1L295.9 656.7L296.7 657.3L297.4 657.3L298.2 657.3L298.9 656.6L299.7 657.3L300.4 657.3L301.2 656.2L301.9 656.6L302.7 656.3L303.4 657.3L304.2 657.3L304.9 656.9L305.7 657.3L306.4 657.3L307.2 657.3L307.9 657.3L308.7 657.3L309.4 656.3L310.2 656.4L310.9 657.2L311.7 657.3L312.4 657.3L313.2 657.3L313.9 657.3L314.7 656.9L315.4 656.7L316.2 657.3L316.9 656.9L317.7 656.9L318.4 657.1L319.2 657.2L319.9 656.9L320.7 657.3L321.4 657.1L322.2 657.3L322.9 657.3L323.7 656.9L324.4 657.1L325.2 657.3L325.9 656.5L326.7 657.2L327.4 657.3L328.2 657.3L328.9 657.3L329.7 657.3L330.4 657.2L331.2 657.3L331.9 656.9L332.7 657.3L333.4 656.9L334.2 657.3L334.9 657.3L335.7 657.1L336.4 656.9L337.2 657.3L337.9 656.9L338.7 656.8L339.4 657.2L340.2 656.6L340.9 656.6L341.7 657.3L342.4 657.3L343.2 657.3L343.9 656.9L344.7 656.7L345.4 657.3L346.2 657.3L346.9 657.2L347.7 657.2L348.4 657.3L349.2 657.1L349.9 657.3L350.7 657.3L351.4 657.3L352.2 657.3L352.9 657.1L353.7 657.3L354.4 657.3L355.2 657.3L355.9 657.3L356.7 657.3L357.4 657.3L358.2 657.3L358.9 657.3L359.7 657.3L360.4 657.3L360.6 659.1Z" fill="#151515"/>
<rect x="208.2" y="522.3" width="152.40000000000003" height="136.80000000000007" fill="none" stroke="#111" stroke-width="1.4"/>
<line x1="208.5" y1="522.3" x2="208.5" y2="659.1" stroke="#111" stroke-width="2"/>
<line x1="204.0" y1="659.1" x2="208.2" y2="659.1" stroke="#111" stroke-width="1.15"/>
<line x1="205.6" y1="654.5" x2="208.2" y2="654.5" stroke="#111" stroke-width="1.15"/>
<line x1="205.6" y1="650.0" x2="208.2" y2="650.0" stroke="#111" stroke-width="1.15"/>
<line x1="205.6" y1="645.4" x2="208.2" y2="645.4" stroke="#111" stroke-width="1.15"/>
<line x1="205.6" y1="640.8" x2="208.2" y2="640.8" stroke="#111" stroke-width="1.15"/>
<line x1="205.6" y1="636.3" x2="208.2" y2="636.3" stroke="#111" stroke-width="1.15"/>
<line x1="204.0" y1="631.7" x2="208.2" y2="631.7" stroke="#111" stroke-width="1.15"/>
<line x1="205.6" y1="627.1" x2="208.2" y2="627.1" stroke="#111" stroke-width="1.15"/>
<line x1="205.6" y1="622.6" x2="208.2" y2="622.6" stroke="#111" stroke-width="1.15"/>
<line x1="205.6" y1="618.0" x2="208.2" y2="618.0" stroke="#111" stroke-width="1.15"/>
<line x1="205.6" y1="613.4" x2="208.2" y2="613.4" stroke="#111" stroke-width="1.15"/>
<line x1="205.6" y1="608.9" x2="208.2" y2="608.9" stroke="#111" stroke-width="1.15"/>
<line x1="204.0" y1="604.3" x2="208.2" y2="604.3" stroke="#111" stroke-width="1.15"/>
<line x1="205.6" y1="599.7" x2="208.2" y2="599.7" stroke="#111" stroke-width="1.15"/>
<line x1="205.6" y1="595.2" x2="208.2" y2="595.2" stroke="#111" stroke-width="1.15"/>
<line x1="205.6" y1="590.6" x2="208.2" y2="590.6" stroke="#111" stroke-width="1.15"/>
<line x1="205.6" y1="586.0" x2="208.2" y2="586.0" stroke="#111" stroke-width="1.15"/>
<line x1="205.6" y1="581.5" x2="208.2" y2="581.5" stroke="#111" stroke-width="1.15"/>
<line x1="204.0" y1="576.9" x2="208.2" y2="576.9" stroke="#111" stroke-width="1.15"/>
<line x1="205.6" y1="572.3" x2="208.2" y2="572.3" stroke="#111" stroke-width="1.15"/>
<line x1="205.6" y1="567.8" x2="208.2" y2="567.8" stroke="#111" stroke-width="1.15"/>
<line x1="205.6" y1="563.2" x2="208.2" y2="563.2" stroke="#111" stroke-width="1.15"/>
<line x1="205.6" y1="558.6" x2="208.2" y2="558.6" stroke="#111" stroke-width="1.15"/>
<line x1="205.6" y1="554.1" x2="208.2" y2="554.1" stroke="#111" stroke-width="1.15"/>
<line x1="204.0" y1="549.5" x2="208.2" y2="549.5" stroke="#111" stroke-width="1.15"/>
<line x1="205.6" y1="544.9" x2="208.2" y2="544.9" stroke="#111" stroke-width="1.15"/>
<line x1="205.6" y1="540.4" x2="208.2" y2="540.4" stroke="#111" stroke-width="1.15"/>
<line x1="205.6" y1="535.8" x2="208.2" y2="535.8" stroke="#111" stroke-width="1.15"/>
<line x1="205.6" y1="531.2" x2="208.2" y2="531.2" stroke="#111" stroke-width="1.15"/>
<line x1="205.6" y1="526.7" x2="208.2" y2="526.7" stroke="#111" stroke-width="1.15"/>
<line x1="208.2" y1="659.1" x2="208.2" y2="662.3000000000001" stroke="#111" stroke-width="0.8"/>
<line x1="219.7" y1="659.1" x2="219.7" y2="660.9" stroke="#111" stroke-width="0.8"/>
<line x1="226.4" y1="659.1" x2="226.4" y2="660.9" stroke="#111" stroke-width="0.8"/>
<line x1="231.1" y1="659.1" x2="231.1" y2="660.9" stroke="#111" stroke-width="0.8"/>
<line x1="234.8" y1="659.1" x2="234.8" y2="660.9" stroke="#111" stroke-width="0.8"/>
<line x1="237.8" y1="659.1" x2="237.8" y2="660.9" stroke="#111" stroke-width="0.8"/>
<line x1="240.4" y1="659.1" x2="240.4" y2="660.9" stroke="#111" stroke-width="0.8"/>
<line x1="242.6" y1="659.1" x2="242.6" y2="660.9" stroke="#111" stroke-width="0.8"/>
<line x1="244.6" y1="659.1" x2="244.6" y2="660.9" stroke="#111" stroke-width="0.8"/>
<line x1="246.3" y1="659.1" x2="246.3" y2="662.3000000000001" stroke="#111" stroke-width="0.8"/>
<line x1="257.8" y1="659.1" x2="257.8" y2="660.9" stroke="#111" stroke-width="0.8"/>
<line x1="264.5" y1="659.1" x2="264.5" y2="660.9" stroke="#111" stroke-width="0.8"/>
<line x1="269.2" y1="659.1" x2="269.2" y2="660.9" stroke="#111" stroke-width="0.8"/>
<line x1="272.9" y1="659.1" x2="272.9" y2="660.9" stroke="#111" stroke-width="0.8"/>
<line x1="275.9" y1="659.1" x2="275.9" y2="660.9" stroke="#111" stroke-width="0.8"/>
<line x1="278.5" y1="659.1" x2="278.5" y2="660.9" stroke="#111" stroke-width="0.8"/>
<line x1="280.7" y1="659.1" x2="280.7" y2="660.9" stroke="#111" stroke-width="0.8"/>
<line x1="282.7" y1="659.1" x2="282.7" y2="660.9" stroke="#111" stroke-width="0.8"/>
<line x1="284.4" y1="659.1" x2="284.4" y2="662.3000000000001" stroke="#111" stroke-width="0.8"/>
<line x1="295.9" y1="659.1" x2="295.9" y2="660.9" stroke="#111" stroke-width="0.8"/>
<line x1="302.6" y1="659.1" x2="302.6" y2="660.9" stroke="#111" stroke-width="0.8"/>
<line x1="307.3" y1="659.1" x2="307.3" y2="660.9" stroke="#111" stroke-width="0.8"/>
<line x1="311.0" y1="659.1" x2="311.0" y2="660.9" stroke="#111" stroke-width="0.8"/>
<line x1="314.0" y1="659.1" x2="314.0" y2="660.9" stroke="#111" stroke-width="0.8"/>
<line x1="316.6" y1="659.1" x2="316.6" y2="660.9" stroke="#111" stroke-width="0.8"/>
<line x1="318.8" y1="659.1" x2="318.8" y2="660.9" stroke="#111" stroke-width="0.8"/>
<line x1="320.8" y1="659.1" x2="320.8" y2="660.9" stroke="#111" stroke-width="0.8"/>
<line x1="322.5" y1="659.1" x2="322.5" y2="662.3000000000001" stroke="#111" stroke-width="0.8"/>
<line x1="334.0" y1="659.1" x2="334.0" y2="660.9" stroke="#111" stroke-width="0.8"/>
<line x1="340.7" y1="659.1" x2="340.7" y2="660.9" stroke="#111" stroke-width="0.8"/>
<line x1="345.4" y1="659.1" x2="345.4" y2="660.9" stroke="#111" stroke-width="0.8"/>
<line x1="349.1" y1="659.1" x2="349.1" y2="660.9" stroke="#111" stroke-width="0.8"/>
<line x1="352.1" y1="659.1" x2="352.1" y2="660.9" stroke="#111" stroke-width="0.8"/>
<line x1="354.7" y1="659.1" x2="354.7" y2="660.9" stroke="#111" stroke-width="0.8"/>
<line x1="356.9" y1="659.1" x2="356.9" y2="660.9" stroke="#111" stroke-width="0.8"/>
<line x1="358.9" y1="659.1" x2="358.9" y2="660.9" stroke="#111" stroke-width="0.8"/>
<text x="206.3" y="681.9" font-size="16" textLength="14.8" lengthAdjust="spacingAndGlyphs" >10</text>
<text x="221.4" y="671.9" font-size="10.8" >0</text>
<text x="240.8" y="681.9" font-size="16" textLength="14.8" lengthAdjust="spacingAndGlyphs" >10</text>
<text x="255.9" y="671.9" font-size="10.8" >1</text>
<text x="281.6" y="681.9" font-size="16" textLength="14.8" lengthAdjust="spacingAndGlyphs" >10</text>
<text x="296.7" y="671.9" font-size="10.8" >2</text>
<text x="320.4" y="681.9" font-size="16" textLength="14.8" lengthAdjust="spacingAndGlyphs" >10</text>
<text x="335.5" y="671.9" font-size="10.8" >3</text>
<text x="220.2" y="542.5" font-size="20" textLength="117" lengthAdjust="spacingAndGlyphs" >PMA+anti-β<tspan font-size="15" dy="4.9">2</tspan></text>
<text x="262" y="577.9" font-size="20" textLength="80.5" lengthAdjust="spacingAndGlyphs" >MFI:16.8</text>
<path d="M365.5 659.3L365.5 653.3L366.2 653.3L367.0 656.3L367.8 656.7L368.5 657.3L369.2 655.5L370.0 656.0L370.8 655.2L371.5 656.3L372.2 655.2L373.0 656.5L373.8 654.9L374.5 654.5L375.2 654.8L376.0 653.9L376.8 652.9L377.5 653.8L378.2 652.2L379.0 650.8L379.8 652.0L380.5 649.3L381.2 648.8L382.0 647.3L382.8 648.2L383.5 648.2L384.2 644.6L385.0 643.6L385.8 644.1L386.5 644.7L387.2 640.4L388.0 634.2L388.8 632.1L389.5 624.1L390.2 620.7L391.0 618.0L391.8 609.0L392.5 606.0L393.2 595.5L394.0 591.0L394.8 590.4L395.5 584.4L396.2 579.1L397.0 573.2L397.8 569.3L398.5 582.1L399.2 584.1L400.0 587.6L400.8 596.8L401.5 600.4L402.2 611.1L403.0 611.1L403.8 620.2L404.5 629.2L405.2 628.3L406.0 632.7L406.8 635.7L407.5 636.6L408.2 637.6L409.0 636.6L409.8 632.5L410.5 632.6L411.2 636.0L412.0 632.1L412.8 636.4L413.5 634.9L414.2 632.2L415.0 633.9L415.8 635.7L416.5 635.6L417.2 635.8L418.0 637.3L418.8 633.1L419.5 638.1L420.2 636.6L421.0 635.2L421.8 637.2L422.5 634.6L423.2 638.5L424.0 635.2L424.8 636.0L425.5 637.3L426.2 638.1L427.0 641.9L427.8 642.1L428.5 644.1L429.2 646.6L430.0 647.7L430.8 647.8L431.5 649.7L432.2 651.7L433.0 650.5L433.8 652.9L434.5 653.2L435.2 653.2L436.0 655.4L436.8 656.0L437.5 655.9L438.2 654.8L439.0 655.6L439.8 656.0L440.5 655.7L441.2 654.6L442.0 656.6L442.8 656.2L443.5 655.0L444.2 655.7L445.0 656.6L445.8 656.1L446.5 656.1L447.2 657.0L448.0 656.4L448.8 656.6L449.5 655.3L450.2 656.5L451.0 655.7L451.8 654.9L452.5 655.0L453.2 656.5L454.0 655.9L454.8 656.6L455.5 656.4L456.2 656.2L457.0 655.4L457.8 655.1L458.5 656.8L459.2 657.5L460.0 656.4L460.8 657.4L461.5 657.5L462.2 655.6L463.0 657.3L463.8 655.8L464.5 656.7L465.2 655.2L466.0 655.4L466.8 657.5L467.5 657.2L468.2 655.2L469.0 656.1L469.8 656.6L470.5 655.7L471.2 655.6L472.0 656.5L472.8 656.6L473.5 657.5L474.2 656.9L475.0 657.4L475.8 656.2L476.5 656.3L477.2 657.5L478.0 656.2L478.8 657.5L479.5 657.5L480.2 656.2L481.0 656.7L481.8 655.6L482.5 656.3L483.2 656.1L484.0 657.5L484.8 655.8L485.5 657.5L486.2 656.4L487.0 655.6L487.8 655.7L488.5 655.7L489.2 656.9L490.0 656.2L490.8 656.0L491.5 657.5L492.2 655.7L493.0 655.7L493.8 656.9L494.5 656.1L495.2 657.0L496.0 657.4L496.8 656.3L497.5 657.5L498.2 656.1L499.0 655.7L499.8 657.4L500.5 655.8L501.2 657.5L502.0 656.0L502.8 657.5L503.5 655.8L504.2 657.1L505.0 655.9L505.8 657.5L506.5 657.5L507.2 656.2L508.0 656.7L508.8 656.9L509.5 657.5L510.2 657.5L511.0 657.4L511.8 657.5L512.5 655.8L513.2 656.4L514.0 656.0L514.8 656.6L515.5 657.5L516.2 657.5L516.4 659.3Z" fill="#151515"/>
<rect x="365.5" y="522.8" width="150.89999999999998" height="136.5" fill="none" stroke="#111" stroke-width="1.4"/>
<line x1="365.8" y1="522.8" x2="365.8" y2="659.3" stroke="#111" stroke-width="2"/>
<line x1="361.3" y1="659.3" x2="365.5" y2="659.3" stroke="#111" stroke-width="1.15"/>
<line x1="362.9" y1="654.7" x2="365.5" y2="654.7" stroke="#111" stroke-width="1.15"/>
<line x1="362.9" y1="650.2" x2="365.5" y2="650.2" stroke="#111" stroke-width="1.15"/>
<line x1="362.9" y1="645.6" x2="365.5" y2="645.6" stroke="#111" stroke-width="1.15"/>
<line x1="362.9" y1="641.0" x2="365.5" y2="641.0" stroke="#111" stroke-width="1.15"/>
<line x1="362.9" y1="636.5" x2="365.5" y2="636.5" stroke="#111" stroke-width="1.15"/>
<line x1="361.3" y1="631.9" x2="365.5" y2="631.9" stroke="#111" stroke-width="1.15"/>
<line x1="362.9" y1="627.3" x2="365.5" y2="627.3" stroke="#111" stroke-width="1.15"/>
<line x1="362.9" y1="622.8" x2="365.5" y2="622.8" stroke="#111" stroke-width="1.15"/>
<line x1="362.9" y1="618.2" x2="365.5" y2="618.2" stroke="#111" stroke-width="1.15"/>
<line x1="362.9" y1="613.6" x2="365.5" y2="613.6" stroke="#111" stroke-width="1.15"/>
<line x1="362.9" y1="609.1" x2="365.5" y2="609.1" stroke="#111" stroke-width="1.15"/>
<line x1="361.3" y1="604.5" x2="365.5" y2="604.5" stroke="#111" stroke-width="1.15"/>
<line x1="362.9" y1="599.9" x2="365.5" y2="599.9" stroke="#111" stroke-width="1.15"/>
<line x1="362.9" y1="595.4" x2="365.5" y2="595.4" stroke="#111" stroke-width="1.15"/>
<line x1="362.9" y1="590.8" x2="365.5" y2="590.8" stroke="#111" stroke-width="1.15"/>
<line x1="362.9" y1="586.2" x2="365.5" y2="586.2" stroke="#111" stroke-width="1.15"/>
<line x1="362.9" y1="581.7" x2="365.5" y2="581.7" stroke="#111" stroke-width="1.15"/>
<line x1="361.3" y1="577.1" x2="365.5" y2="577.1" stroke="#111" stroke-width="1.15"/>
<line x1="362.9" y1="572.5" x2="365.5" y2="572.5" stroke="#111" stroke-width="1.15"/>
<line x1="362.9" y1="568.0" x2="365.5" y2="568.0" stroke="#111" stroke-width="1.15"/>
<line x1="362.9" y1="563.4" x2="365.5" y2="563.4" stroke="#111" stroke-width="1.15"/>
<line x1="362.9" y1="558.8" x2="365.5" y2="558.8" stroke="#111" stroke-width="1.15"/>
<line x1="362.9" y1="554.3" x2="365.5" y2="554.3" stroke="#111" stroke-width="1.15"/>
<line x1="361.3" y1="549.7" x2="365.5" y2="549.7" stroke="#111" stroke-width="1.15"/>
<line x1="362.9" y1="545.1" x2="365.5" y2="545.1" stroke="#111" stroke-width="1.15"/>
<line x1="362.9" y1="540.6" x2="365.5" y2="540.6" stroke="#111" stroke-width="1.15"/>
<line x1="362.9" y1="536.0" x2="365.5" y2="536.0" stroke="#111" stroke-width="1.15"/>
<line x1="362.9" y1="531.4" x2="365.5" y2="531.4" stroke="#111" stroke-width="1.15"/>
<line x1="362.9" y1="526.9" x2="365.5" y2="526.9" stroke="#111" stroke-width="1.15"/>
<line x1="365.5" y1="659.3" x2="365.5" y2="662.5" stroke="#111" stroke-width="0.8"/>
<line x1="376.9" y1="659.3" x2="376.9" y2="661.0999999999999" stroke="#111" stroke-width="0.8"/>
<line x1="383.5" y1="659.3" x2="383.5" y2="661.0999999999999" stroke="#111" stroke-width="0.8"/>
<line x1="388.2" y1="659.3" x2="388.2" y2="661.0999999999999" stroke="#111" stroke-width="0.8"/>
<line x1="391.9" y1="659.3" x2="391.9" y2="661.0999999999999" stroke="#111" stroke-width="0.8"/>
<line x1="394.9" y1="659.3" x2="394.9" y2="661.0999999999999" stroke="#111" stroke-width="0.8"/>
<line x1="397.4" y1="659.3" x2="397.4" y2="661.0999999999999" stroke="#111" stroke-width="0.8"/>
<line x1="399.6" y1="659.3" x2="399.6" y2="661.0999999999999" stroke="#111" stroke-width="0.8"/>
<line x1="401.5" y1="659.3" x2="401.5" y2="661.0999999999999" stroke="#111" stroke-width="0.8"/>
<line x1="403.2" y1="659.3" x2="403.2" y2="662.5" stroke="#111" stroke-width="0.8"/>
<line x1="414.6" y1="659.3" x2="414.6" y2="661.0999999999999" stroke="#111" stroke-width="0.8"/>
<line x1="421.2" y1="659.3" x2="421.2" y2="661.0999999999999" stroke="#111" stroke-width="0.8"/>
<line x1="425.9" y1="659.3" x2="425.9" y2="661.0999999999999" stroke="#111" stroke-width="0.8"/>
<line x1="429.6" y1="659.3" x2="429.6" y2="661.0999999999999" stroke="#111" stroke-width="0.8"/>
<line x1="432.6" y1="659.3" x2="432.6" y2="661.0999999999999" stroke="#111" stroke-width="0.8"/>
<line x1="435.1" y1="659.3" x2="435.1" y2="661.0999999999999" stroke="#111" stroke-width="0.8"/>
<line x1="437.3" y1="659.3" x2="437.3" y2="661.0999999999999" stroke="#111" stroke-width="0.8"/>
<line x1="439.2" y1="659.3" x2="439.2" y2="661.0999999999999" stroke="#111" stroke-width="0.8"/>
<line x1="440.9" y1="659.3" x2="440.9" y2="662.5" stroke="#111" stroke-width="0.8"/>
<line x1="452.3" y1="659.3" x2="452.3" y2="661.0999999999999" stroke="#111" stroke-width="0.8"/>
<line x1="458.9" y1="659.3" x2="458.9" y2="661.0999999999999" stroke="#111" stroke-width="0.8"/>
<line x1="463.7" y1="659.3" x2="463.7" y2="661.0999999999999" stroke="#111" stroke-width="0.8"/>
<line x1="467.3" y1="659.3" x2="467.3" y2="661.0999999999999" stroke="#111" stroke-width="0.8"/>
<line x1="470.3" y1="659.3" x2="470.3" y2="661.0999999999999" stroke="#111" stroke-width="0.8"/>
<line x1="472.8" y1="659.3" x2="472.8" y2="661.0999999999999" stroke="#111" stroke-width="0.8"/>
<line x1="475.0" y1="659.3" x2="475.0" y2="661.0999999999999" stroke="#111" stroke-width="0.8"/>
<line x1="476.9" y1="659.3" x2="476.9" y2="661.0999999999999" stroke="#111" stroke-width="0.8"/>
<line x1="478.7" y1="659.3" x2="478.7" y2="662.5" stroke="#111" stroke-width="0.8"/>
<line x1="490.0" y1="659.3" x2="490.0" y2="661.0999999999999" stroke="#111" stroke-width="0.8"/>
<line x1="496.7" y1="659.3" x2="496.7" y2="661.0999999999999" stroke="#111" stroke-width="0.8"/>
<line x1="501.4" y1="659.3" x2="501.4" y2="661.0999999999999" stroke="#111" stroke-width="0.8"/>
<line x1="505.0" y1="659.3" x2="505.0" y2="661.0999999999999" stroke="#111" stroke-width="0.8"/>
<line x1="508.0" y1="659.3" x2="508.0" y2="661.0999999999999" stroke="#111" stroke-width="0.8"/>
<line x1="510.6" y1="659.3" x2="510.6" y2="661.0999999999999" stroke="#111" stroke-width="0.8"/>
<line x1="512.7" y1="659.3" x2="512.7" y2="661.0999999999999" stroke="#111" stroke-width="0.8"/>
<line x1="514.7" y1="659.3" x2="514.7" y2="661.0999999999999" stroke="#111" stroke-width="0.8"/>
<text x="370.0" y="681.9" font-size="16" textLength="14.8" lengthAdjust="spacingAndGlyphs" >10</text>
<text x="385.1" y="671.9" font-size="10.8" >0</text>
<text x="400.8" y="681.9" font-size="16" textLength="14.8" lengthAdjust="spacingAndGlyphs" >10</text>
<text x="415.9" y="671.9" font-size="10.8" >1</text>
<text x="439.8" y="681.9" font-size="16" textLength="14.8" lengthAdjust="spacingAndGlyphs" >10</text>
<text x="454.9" y="671.9" font-size="10.8" >2</text>
<text x="477.8" y="681.9" font-size="16" textLength="14.8" lengthAdjust="spacingAndGlyphs" >10</text>
<text x="492.9" y="671.9" font-size="10.8" >3</text>
<text x="368.6" y="542" font-size="20" textLength="147" lengthAdjust="spacingAndGlyphs" >PMA+anti-uPAR</text>
<text x="420" y="577.3" font-size="20" textLength="80.5" lengthAdjust="spacingAndGlyphs" >MFI:32.3</text>
<path d="M54 380.2H515.2M54 516.6H515.2" stroke="#111" stroke-width="1.4" fill="none"/>
<text x="137" y="700.2" font-size="20.5" textLength="267.3" lengthAdjust="spacingAndGlyphs" >HMW-uPA-Alexa 488 binding</text>
</g>
</svg>
</body></html>
